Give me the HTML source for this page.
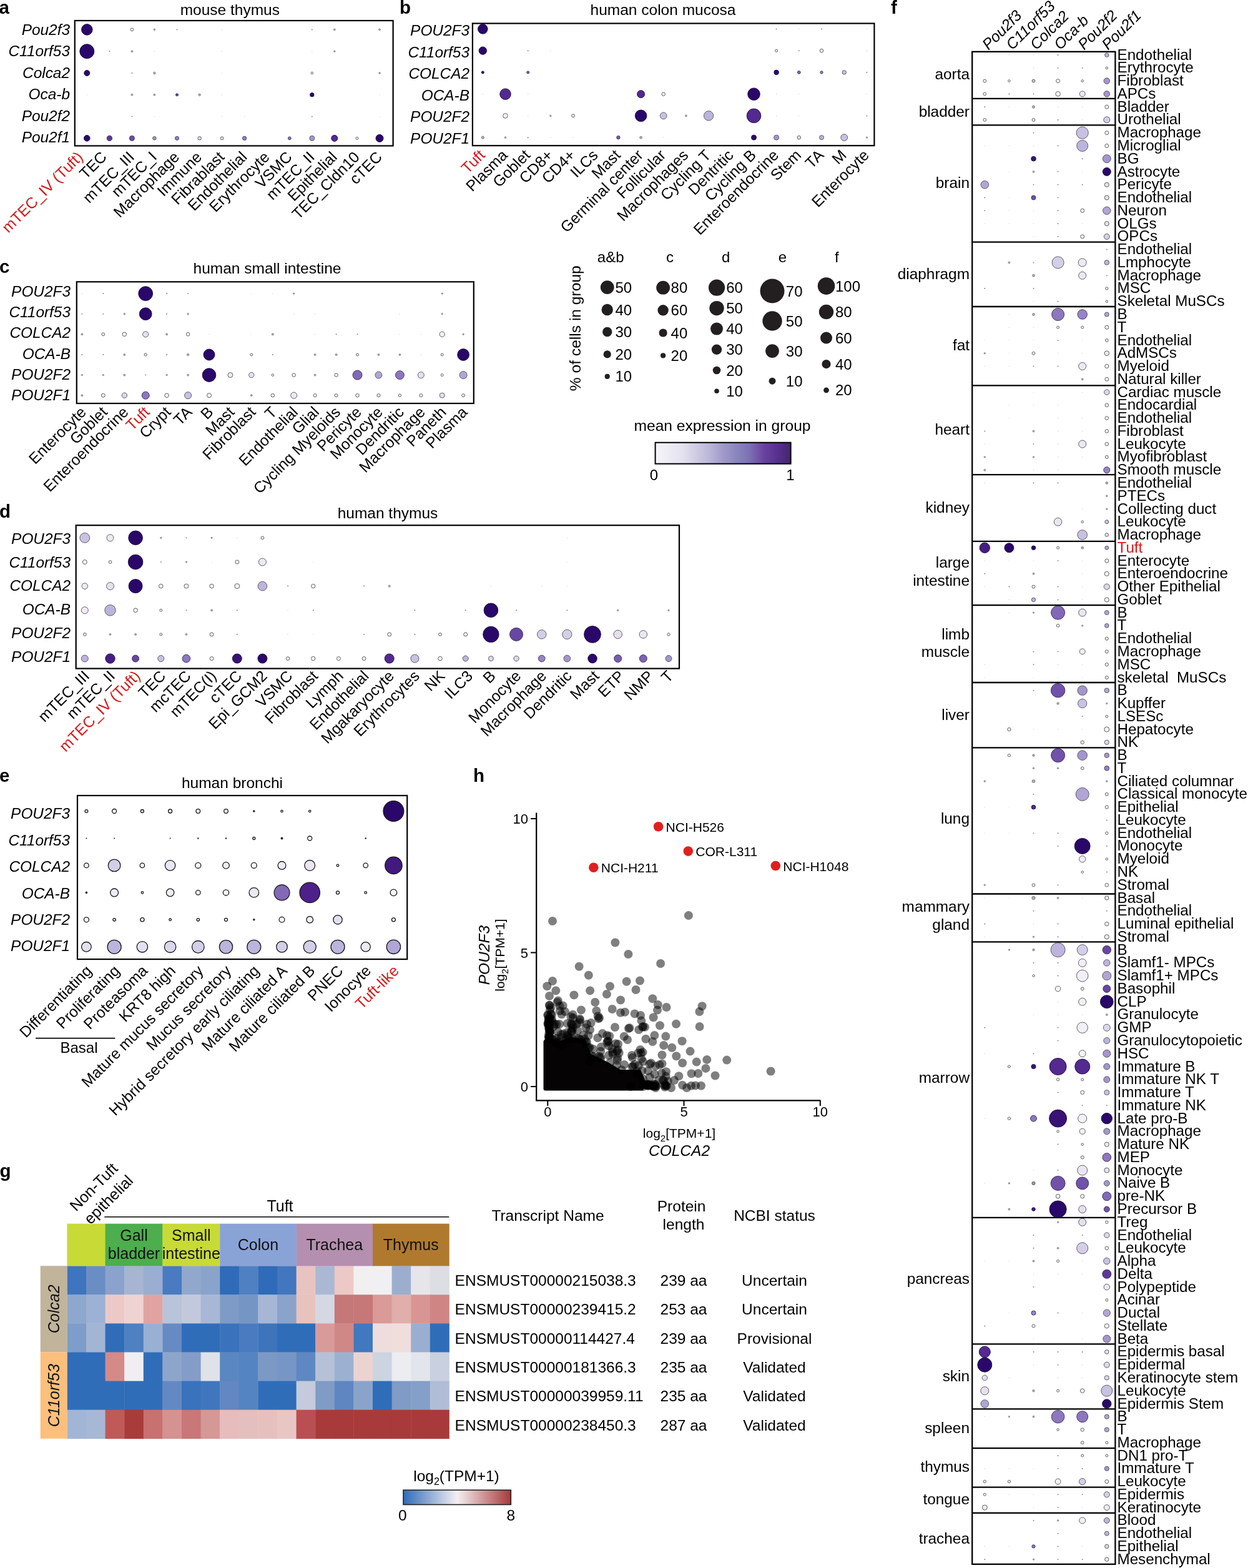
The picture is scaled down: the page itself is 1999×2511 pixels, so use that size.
<!DOCTYPE html>
<html><head><meta charset="utf-8"><title>Figure</title>
<style>html,body{margin:0;padding:0;background:#fff;}svg{display:block;}
</style></head>
<body><svg width="1999" height="2511" viewBox="0 0 1999 2511">
<rect width="1999" height="2511" fill="#fff"/>
<g font-family='"Liberation Sans", Arial, Helvetica, sans-serif' font-size="24">
<circle cx="139.3" cy="47.4" r="8.8" fill="#2a0869" stroke="#1b0840" stroke-width="0.9"/>
<circle cx="139.3" cy="82.2" r="11.5" fill="#2a0869" stroke="#1b0840" stroke-width="0.9"/>
<circle cx="139.3" cy="117.0" r="4.5" fill="#2a0869" stroke="#1b0840" stroke-width="0.9"/>
<circle cx="139.3" cy="151.8" r="0.6" fill="#c8c8c8"/>
<circle cx="139.3" cy="221.4" r="4.8" fill="#2a0869" stroke="#1b0840" stroke-width="0.9"/>
<circle cx="175.4" cy="82.2" r="1.0" fill="#8a8a8a"/>
<circle cx="175.4" cy="221.4" r="4.2" fill="#5e3799" stroke="#352a55" stroke-width="0.9"/>
<circle cx="211.4" cy="47.4" r="2.4" fill="#f6f3fa" stroke="#505050" stroke-width="0.9"/>
<circle cx="211.4" cy="82.2" r="1.5" fill="#a9a9b4" stroke="#777" stroke-width="0.7"/>
<circle cx="211.4" cy="117.0" r="1.0" fill="#8a8a8a"/>
<circle cx="211.4" cy="151.8" r="1.5" fill="#a9a9b4" stroke="#777" stroke-width="0.7"/>
<circle cx="211.4" cy="186.6" r="1.0" fill="#8a8a8a"/>
<circle cx="211.4" cy="221.4" r="4.0" fill="#6d4da7" stroke="#352a55" stroke-width="0.9"/>
<circle cx="247.4" cy="47.4" r="1.4" fill="#a9a9b4" stroke="#777" stroke-width="0.7"/>
<circle cx="247.4" cy="82.2" r="0.6" fill="#c8c8c8"/>
<circle cx="247.4" cy="117.0" r="1.8" fill="#a9a9b4" stroke="#777" stroke-width="0.7"/>
<circle cx="247.4" cy="151.8" r="1.5" fill="#a9a9b4" stroke="#777" stroke-width="0.7"/>
<circle cx="247.4" cy="186.6" r="0.6" fill="#c8c8c8"/>
<circle cx="247.4" cy="221.4" r="2.8" fill="#a495ce" stroke="#505050" stroke-width="0.9"/>
<circle cx="283.5" cy="47.4" r="1.0" fill="#8a8a8a"/>
<circle cx="283.5" cy="151.8" r="2.0" fill="#6846a3" stroke="#352a55" stroke-width="0.9"/>
<circle cx="283.5" cy="221.4" r="3.0" fill="#9884c6" stroke="#352a55" stroke-width="0.9"/>
<circle cx="319.6" cy="151.8" r="1.8" fill="#a9a9b4" stroke="#777" stroke-width="0.7"/>
<circle cx="319.6" cy="221.4" r="2.8" fill="#dcd7ec" stroke="#505050" stroke-width="0.9"/>
<circle cx="355.6" cy="47.4" r="0.6" fill="#c8c8c8"/>
<circle cx="355.6" cy="82.2" r="0.6" fill="#c8c8c8"/>
<circle cx="355.6" cy="117.0" r="0.6" fill="#c8c8c8"/>
<circle cx="355.6" cy="151.8" r="0.6" fill="#c8c8c8"/>
<circle cx="355.6" cy="186.6" r="0.6" fill="#c8c8c8"/>
<circle cx="355.6" cy="221.4" r="2.5" fill="#e5e0f0" stroke="#505050" stroke-width="0.9"/>
<circle cx="391.6" cy="186.6" r="0.6" fill="#c8c8c8"/>
<circle cx="391.6" cy="221.4" r="3.1" fill="#9884c6" stroke="#352a55" stroke-width="0.9"/>
<circle cx="463.8" cy="221.4" r="2.4" fill="#8d77be" stroke="#352a55" stroke-width="0.9"/>
<circle cx="499.8" cy="47.4" r="1.0" fill="#8a8a8a"/>
<circle cx="499.8" cy="82.2" r="0.6" fill="#c8c8c8"/>
<circle cx="499.8" cy="117.0" r="1.7" fill="#f6f3fa" stroke="#505050" stroke-width="0.9"/>
<circle cx="499.8" cy="151.8" r="3.2" fill="#2a0869" stroke="#1b0840" stroke-width="0.9"/>
<circle cx="499.8" cy="186.6" r="1.0" fill="#8a8a8a"/>
<circle cx="499.8" cy="221.4" r="4.0" fill="#a495ce" stroke="#505050" stroke-width="0.9"/>
<circle cx="535.8" cy="47.4" r="1.5" fill="#a9a9b4" stroke="#777" stroke-width="0.7"/>
<circle cx="535.8" cy="82.2" r="1.3" fill="#a9a9b4" stroke="#777" stroke-width="0.7"/>
<circle cx="535.8" cy="221.4" r="5.0" fill="#542990" stroke="#1b0840" stroke-width="0.9"/>
<circle cx="571.9" cy="221.4" r="2.0" fill="#f6f3fa" stroke="#505050" stroke-width="0.9"/>
<circle cx="608.0" cy="47.4" r="1.5" fill="#a9a9b4" stroke="#777" stroke-width="0.7"/>
<circle cx="608.0" cy="117.0" r="1.3" fill="#a9a9b4" stroke="#777" stroke-width="0.7"/>
<circle cx="608.0" cy="151.8" r="0.6" fill="#c8c8c8"/>
<circle cx="608.0" cy="186.6" r="0.6" fill="#c8c8c8"/>
<circle cx="608.0" cy="221.4" r="6.0" fill="#2a0869" stroke="#1b0840" stroke-width="0.9"/>
<rect x="119.8" y="33.0" width="509.8" height="200.5" fill="none" stroke="#000" stroke-width="2.2"/>
<text x="112.0" y="55.9" text-anchor="end" font-size="24.4" font-style="italic">Pou2f3</text>
<text x="112.0" y="90.4" text-anchor="end" font-size="24.4" font-style="italic">C11orf53</text>
<text x="112.0" y="124.9" text-anchor="end" font-size="24.4" font-style="italic">Colca2</text>
<text x="112.0" y="159.4" text-anchor="end" font-size="24.4" font-style="italic">Oca-b</text>
<text x="112.0" y="193.9" text-anchor="end" font-size="24.4" font-style="italic">Pou2f2</text>
<text x="112.0" y="228.4" text-anchor="end" font-size="24.4" font-style="italic">Pou2f1</text>
<text x="134.3" y="253.0" text-anchor="end" font-size="24.6" fill="#d7191c" transform="rotate(-45 134.3 253.0)">mTEC_IV (Tuft)</text>
<text x="172.4" y="253.0" text-anchor="end" font-size="24.6" transform="rotate(-45 172.4 253.0)">TEC</text>
<text x="216.5" y="253.0" text-anchor="end" font-size="24.6" transform="rotate(-45 216.5 253.0)">mTEC_III</text>
<text x="252.6" y="253.0" text-anchor="end" font-size="24.6" transform="rotate(-45 252.6 253.0)">mTEC_I</text>
<text x="288.7" y="253.0" text-anchor="end" font-size="24.6" transform="rotate(-45 288.7 253.0)">Macrophage</text>
<text x="324.8" y="253.0" text-anchor="end" font-size="24.6" transform="rotate(-45 324.8 253.0)">Immune</text>
<text x="360.9" y="253.0" text-anchor="end" font-size="24.6" transform="rotate(-45 360.9 253.0)">Fibrablast</text>
<text x="397.0" y="253.0" text-anchor="end" font-size="24.6" transform="rotate(-45 397.0 253.0)">Endothelial</text>
<text x="433.1" y="253.0" text-anchor="end" font-size="24.6" transform="rotate(-45 433.1 253.0)">Erythrocyte</text>
<text x="469.2" y="253.0" text-anchor="end" font-size="24.6" transform="rotate(-45 469.2 253.0)">VSMC</text>
<text x="505.3" y="253.0" text-anchor="end" font-size="24.6" transform="rotate(-45 505.3 253.0)">mTEC_II</text>
<text x="541.4" y="253.0" text-anchor="end" font-size="24.6" transform="rotate(-45 541.4 253.0)">Epithelial</text>
<text x="577.5" y="253.0" text-anchor="end" font-size="24.6" transform="rotate(-45 577.5 253.0)">TEC_Cldn10</text>
<text x="613.6" y="253.0" text-anchor="end" font-size="24.6" transform="rotate(-45 613.6 253.0)">cTEC</text>
<text x="368.3" y="24.0" text-anchor="middle" font-size="24.5">mouse thymus</text>
<circle cx="773.3" cy="46.4" r="7.8" fill="#2a0869" stroke="#1b0840" stroke-width="0.9"/>
<circle cx="773.3" cy="81.2" r="6.2" fill="#2a0869" stroke="#1b0840" stroke-width="0.9"/>
<circle cx="773.3" cy="115.9" r="2.0" fill="#2a0869" stroke="#1b0840" stroke-width="0.9"/>
<circle cx="773.3" cy="150.7" r="0.6" fill="#c8c8c8"/>
<circle cx="773.3" cy="220.2" r="2.2" fill="#a9a9b4" stroke="#777" stroke-width="0.7"/>
<circle cx="809.5" cy="150.7" r="8.8" fill="#542990" stroke="#1b0840" stroke-width="0.9"/>
<circle cx="809.5" cy="185.4" r="3.8" fill="#f6f3fa" stroke="#505050" stroke-width="0.9"/>
<circle cx="809.5" cy="220.2" r="1.4" fill="#a9a9b4" stroke="#777" stroke-width="0.7"/>
<circle cx="845.7" cy="81.2" r="1.0" fill="#8a8a8a"/>
<circle cx="845.7" cy="115.9" r="2.0" fill="#795db0" stroke="#352a55" stroke-width="0.9"/>
<circle cx="845.7" cy="150.7" r="0.6" fill="#c8c8c8"/>
<circle cx="845.7" cy="185.4" r="0.6" fill="#c8c8c8"/>
<circle cx="845.7" cy="220.2" r="1.0" fill="#8a8a8a"/>
<circle cx="881.8" cy="81.2" r="0.6" fill="#c8c8c8"/>
<circle cx="881.8" cy="185.4" r="1.3" fill="#a9a9b4" stroke="#777" stroke-width="0.7"/>
<circle cx="881.8" cy="220.2" r="0.6" fill="#c8c8c8"/>
<circle cx="918.0" cy="185.4" r="2.5" fill="#f6f3fa" stroke="#505050" stroke-width="0.9"/>
<circle cx="918.0" cy="220.2" r="0.6" fill="#c8c8c8"/>
<circle cx="990.4" cy="220.2" r="2.7" fill="#795db0" stroke="#352a55" stroke-width="0.9"/>
<circle cx="1026.6" cy="150.7" r="6.0" fill="#542990" stroke="#1b0840" stroke-width="0.9"/>
<circle cx="1026.6" cy="185.4" r="9.3" fill="#2a0869" stroke="#1b0840" stroke-width="0.9"/>
<circle cx="1026.6" cy="220.2" r="2.0" fill="#a9a9b4" stroke="#777" stroke-width="0.7"/>
<circle cx="1062.7" cy="150.7" r="2.8" fill="#f6f3fa" stroke="#505050" stroke-width="0.9"/>
<circle cx="1062.7" cy="185.4" r="5.4" fill="#c8c1e3" stroke="#505050" stroke-width="0.9"/>
<circle cx="1062.7" cy="220.2" r="0.6" fill="#c8c8c8"/>
<circle cx="1098.9" cy="185.4" r="1.5" fill="#a9a9b4" stroke="#777" stroke-width="0.7"/>
<circle cx="1135.1" cy="185.4" r="7.7" fill="#bdb4dd" stroke="#505050" stroke-width="0.9"/>
<circle cx="1207.5" cy="150.7" r="9.8" fill="#2a0869" stroke="#1b0840" stroke-width="0.9"/>
<circle cx="1207.5" cy="185.4" r="11.3" fill="#542990" stroke="#1b0840" stroke-width="0.9"/>
<circle cx="1207.5" cy="220.2" r="4.0" fill="#2a0869" stroke="#1b0840" stroke-width="0.9"/>
<circle cx="1243.6" cy="46.4" r="1.0" fill="#8a8a8a"/>
<circle cx="1243.6" cy="81.2" r="2.0" fill="#f6f3fa" stroke="#505050" stroke-width="0.9"/>
<circle cx="1243.6" cy="115.9" r="3.8" fill="#2a0869" stroke="#1b0840" stroke-width="0.9"/>
<circle cx="1243.6" cy="150.7" r="0.6" fill="#c8c8c8"/>
<circle cx="1243.6" cy="185.4" r="0.6" fill="#c8c8c8"/>
<circle cx="1243.6" cy="220.2" r="4.0" fill="#a495ce" stroke="#505050" stroke-width="0.9"/>
<circle cx="1279.8" cy="46.4" r="0.6" fill="#c8c8c8"/>
<circle cx="1279.8" cy="81.2" r="1.0" fill="#8a8a8a"/>
<circle cx="1279.8" cy="115.9" r="2.4" fill="#8269b7" stroke="#352a55" stroke-width="0.9"/>
<circle cx="1279.8" cy="150.7" r="0.6" fill="#c8c8c8"/>
<circle cx="1279.8" cy="185.4" r="0.6" fill="#c8c8c8"/>
<circle cx="1279.8" cy="220.2" r="2.8" fill="#e5e0f0" stroke="#505050" stroke-width="0.9"/>
<circle cx="1316.0" cy="46.4" r="1.0" fill="#8a8a8a"/>
<circle cx="1316.0" cy="81.2" r="2.8" fill="#f6f3fa" stroke="#505050" stroke-width="0.9"/>
<circle cx="1316.0" cy="115.9" r="2.2" fill="#9884c6" stroke="#352a55" stroke-width="0.9"/>
<circle cx="1316.0" cy="220.2" r="3.5" fill="#bdb4dd" stroke="#505050" stroke-width="0.9"/>
<circle cx="1352.2" cy="115.9" r="3.2" fill="#c8c1e3" stroke="#505050" stroke-width="0.9"/>
<circle cx="1352.2" cy="220.2" r="5.4" fill="#c8c1e3" stroke="#505050" stroke-width="0.9"/>
<circle cx="1388.4" cy="46.4" r="0.6" fill="#c8c8c8"/>
<circle cx="1388.4" cy="81.2" r="0.6" fill="#c8c8c8"/>
<circle cx="1388.4" cy="115.9" r="1.0" fill="#8a8a8a"/>
<circle cx="1388.4" cy="150.7" r="0.6" fill="#c8c8c8"/>
<circle cx="1388.4" cy="185.4" r="1.0" fill="#8a8a8a"/>
<circle cx="1388.4" cy="220.2" r="1.2" fill="#a9a9b4" stroke="#777" stroke-width="0.7"/>
<rect x="756.9" y="37.5" width="643.5" height="195.7" fill="none" stroke="#000" stroke-width="2.2"/>
<text x="752.0" y="57.1" text-anchor="end" font-size="24.4" font-style="italic">POU2F3</text>
<text x="752.0" y="91.6" text-anchor="end" font-size="24.4" font-style="italic">C11orf53</text>
<text x="752.0" y="126.1" text-anchor="end" font-size="24.4" font-style="italic">COLCA2</text>
<text x="752.0" y="160.6" text-anchor="end" font-size="24.4" font-style="italic">OCA-B</text>
<text x="752.0" y="195.1" text-anchor="end" font-size="24.4" font-style="italic">POU2F2</text>
<text x="752.0" y="229.6" text-anchor="end" font-size="24.4" font-style="italic">POU2F1</text>
<text x="778.3" y="250.0" text-anchor="end" font-size="24.6" fill="#d7191c" transform="rotate(-45 778.3 250.0)">Tuft</text>
<text x="814.5" y="250.0" text-anchor="end" font-size="24.6" transform="rotate(-45 814.5 250.0)">Plasma</text>
<text x="850.7" y="250.0" text-anchor="end" font-size="24.6" transform="rotate(-45 850.7 250.0)">Goblet</text>
<text x="886.8" y="250.0" text-anchor="end" font-size="24.6" transform="rotate(-45 886.8 250.0)">CD8+</text>
<text x="923.0" y="250.0" text-anchor="end" font-size="24.6" transform="rotate(-45 923.0 250.0)">CD4+</text>
<text x="959.2" y="250.0" text-anchor="end" font-size="24.6" transform="rotate(-45 959.2 250.0)">ILCs</text>
<text x="995.4" y="250.0" text-anchor="end" font-size="24.6" transform="rotate(-45 995.4 250.0)">Mast</text>
<text x="1031.6" y="250.0" text-anchor="end" font-size="24.6" transform="rotate(-45 1031.6 250.0)">Germinal center</text>
<text x="1067.7" y="250.0" text-anchor="end" font-size="24.6" transform="rotate(-45 1067.7 250.0)">Follicular</text>
<text x="1103.9" y="250.0" text-anchor="end" font-size="24.6" transform="rotate(-45 1103.9 250.0)">Macrophages</text>
<text x="1140.1" y="250.0" text-anchor="end" font-size="24.6" transform="rotate(-45 1140.1 250.0)">Cycling T</text>
<text x="1176.3" y="250.0" text-anchor="end" font-size="24.6" transform="rotate(-45 1176.3 250.0)">Dentritic</text>
<text x="1212.5" y="250.0" text-anchor="end" font-size="24.6" transform="rotate(-45 1212.5 250.0)">Cycling B</text>
<text x="1248.6" y="250.0" text-anchor="end" font-size="24.6" transform="rotate(-45 1248.6 250.0)">Enteroendocrine</text>
<text x="1284.8" y="250.0" text-anchor="end" font-size="24.6" transform="rotate(-45 1284.8 250.0)">Stem</text>
<text x="1321.0" y="250.0" text-anchor="end" font-size="24.6" transform="rotate(-45 1321.0 250.0)">TA</text>
<text x="1357.2" y="250.0" text-anchor="end" font-size="24.6" transform="rotate(-45 1357.2 250.0)">M</text>
<text x="1393.4" y="250.0" text-anchor="end" font-size="24.6" transform="rotate(-45 1393.4 250.0)">Enterocyte</text>
<text x="1062.0" y="24.0" text-anchor="middle" font-size="24.5">human colon mucosa</text>
<circle cx="131.4" cy="470.1" r="0.6" fill="#c8c8c8"/>
<circle cx="131.4" cy="502.7" r="1.0" fill="#8a8a8a"/>
<circle cx="131.4" cy="535.3" r="1.5" fill="#a9a9b4" stroke="#777" stroke-width="0.7"/>
<circle cx="131.4" cy="568.0" r="1.0" fill="#8a8a8a"/>
<circle cx="131.4" cy="600.6" r="1.2" fill="#a9a9b4" stroke="#777" stroke-width="0.7"/>
<circle cx="131.4" cy="633.2" r="1.5" fill="#a9a9b4" stroke="#777" stroke-width="0.7"/>
<circle cx="165.3" cy="470.1" r="1.0" fill="#8a8a8a"/>
<circle cx="165.3" cy="502.7" r="1.0" fill="#8a8a8a"/>
<circle cx="165.3" cy="535.3" r="2.4" fill="#f6f3fa" stroke="#505050" stroke-width="0.9"/>
<circle cx="165.3" cy="568.0" r="1.0" fill="#8a8a8a"/>
<circle cx="165.3" cy="600.6" r="1.2" fill="#a9a9b4" stroke="#777" stroke-width="0.7"/>
<circle cx="165.3" cy="633.2" r="3.0" fill="#f6f3fa" stroke="#505050" stroke-width="0.9"/>
<circle cx="199.3" cy="502.7" r="1.3" fill="#a9a9b4" stroke="#777" stroke-width="0.7"/>
<circle cx="199.3" cy="535.3" r="3.3" fill="#f6f3fa" stroke="#505050" stroke-width="0.9"/>
<circle cx="199.3" cy="568.0" r="1.5" fill="#a9a9b4" stroke="#777" stroke-width="0.7"/>
<circle cx="199.3" cy="600.6" r="1.5" fill="#a9a9b4" stroke="#777" stroke-width="0.7"/>
<circle cx="199.3" cy="633.2" r="4.2" fill="#dcd7ec" stroke="#505050" stroke-width="0.9"/>
<circle cx="233.2" cy="470.1" r="11.4" fill="#2a0869" stroke="#1b0840" stroke-width="0.9"/>
<circle cx="233.2" cy="502.7" r="9.9" fill="#2a0869" stroke="#1b0840" stroke-width="0.9"/>
<circle cx="233.2" cy="535.3" r="4.6" fill="#e5e0f0" stroke="#505050" stroke-width="0.9"/>
<circle cx="233.2" cy="568.0" r="2.2" fill="#f6f3fa" stroke="#505050" stroke-width="0.9"/>
<circle cx="233.2" cy="600.6" r="1.0" fill="#8a8a8a"/>
<circle cx="233.2" cy="633.2" r="6.0" fill="#8d77be" stroke="#352a55" stroke-width="0.9"/>
<circle cx="267.1" cy="470.1" r="1.0" fill="#8a8a8a"/>
<circle cx="267.1" cy="502.7" r="1.0" fill="#8a8a8a"/>
<circle cx="267.1" cy="535.3" r="1.5" fill="#a9a9b4" stroke="#777" stroke-width="0.7"/>
<circle cx="267.1" cy="568.0" r="1.0" fill="#8a8a8a"/>
<circle cx="267.1" cy="600.6" r="1.2" fill="#a9a9b4" stroke="#777" stroke-width="0.7"/>
<circle cx="267.1" cy="633.2" r="3.3" fill="#f6f3fa" stroke="#505050" stroke-width="0.9"/>
<circle cx="301.1" cy="470.1" r="1.0" fill="#8a8a8a"/>
<circle cx="301.1" cy="502.7" r="1.3" fill="#a9a9b4" stroke="#777" stroke-width="0.7"/>
<circle cx="301.1" cy="535.3" r="2.8" fill="#f6f3fa" stroke="#505050" stroke-width="0.9"/>
<circle cx="301.1" cy="568.0" r="1.8" fill="#a9a9b4" stroke="#777" stroke-width="0.7"/>
<circle cx="301.1" cy="600.6" r="1.5" fill="#a9a9b4" stroke="#777" stroke-width="0.7"/>
<circle cx="301.1" cy="633.2" r="5.5" fill="#c8c1e3" stroke="#505050" stroke-width="0.9"/>
<circle cx="335.0" cy="535.3" r="0.6" fill="#c8c8c8"/>
<circle cx="335.0" cy="568.0" r="9.0" fill="#2a0869" stroke="#1b0840" stroke-width="0.9"/>
<circle cx="335.0" cy="600.6" r="10.8" fill="#2a0869" stroke="#1b0840" stroke-width="0.9"/>
<circle cx="335.0" cy="633.2" r="3.5" fill="#f6f3fa" stroke="#505050" stroke-width="0.9"/>
<circle cx="368.9" cy="600.6" r="4.0" fill="#ece9f4" stroke="#505050" stroke-width="0.9"/>
<circle cx="402.8" cy="470.1" r="0.6" fill="#c8c8c8"/>
<circle cx="402.8" cy="535.3" r="0.6" fill="#c8c8c8"/>
<circle cx="402.8" cy="568.0" r="2.0" fill="#f6f3fa" stroke="#505050" stroke-width="0.9"/>
<circle cx="402.8" cy="600.6" r="4.2" fill="#e5e0f0" stroke="#505050" stroke-width="0.9"/>
<circle cx="402.8" cy="633.2" r="1.5" fill="#a9a9b4" stroke="#777" stroke-width="0.7"/>
<circle cx="436.8" cy="470.1" r="0.6" fill="#c8c8c8"/>
<circle cx="436.8" cy="535.3" r="1.6" fill="#a9a9b4" stroke="#777" stroke-width="0.7"/>
<circle cx="436.8" cy="568.0" r="1.0" fill="#8a8a8a"/>
<circle cx="436.8" cy="600.6" r="1.8" fill="#f6f3fa" stroke="#505050" stroke-width="0.9"/>
<circle cx="436.8" cy="633.2" r="2.8" fill="#f6f3fa" stroke="#505050" stroke-width="0.9"/>
<circle cx="470.7" cy="470.1" r="1.2" fill="#a9a9b4" stroke="#777" stroke-width="0.7"/>
<circle cx="470.7" cy="502.7" r="0.6" fill="#c8c8c8"/>
<circle cx="470.7" cy="600.6" r="2.8" fill="#f6f3fa" stroke="#505050" stroke-width="0.9"/>
<circle cx="470.7" cy="633.2" r="5.0" fill="#ece9f4" stroke="#505050" stroke-width="0.9"/>
<circle cx="504.6" cy="502.7" r="0.6" fill="#c8c8c8"/>
<circle cx="504.6" cy="535.3" r="0.6" fill="#c8c8c8"/>
<circle cx="504.6" cy="568.0" r="1.5" fill="#a9a9b4" stroke="#777" stroke-width="0.7"/>
<circle cx="504.6" cy="600.6" r="1.5" fill="#a9a9b4" stroke="#777" stroke-width="0.7"/>
<circle cx="504.6" cy="633.2" r="2.6" fill="#f6f3fa" stroke="#505050" stroke-width="0.9"/>
<circle cx="538.6" cy="535.3" r="1.0" fill="#8a8a8a"/>
<circle cx="538.6" cy="568.0" r="1.6" fill="#a9a9b4" stroke="#777" stroke-width="0.7"/>
<circle cx="538.6" cy="600.6" r="2.8" fill="#f6f3fa" stroke="#505050" stroke-width="0.9"/>
<circle cx="538.6" cy="633.2" r="2.5" fill="#f6f3fa" stroke="#505050" stroke-width="0.9"/>
<circle cx="572.5" cy="535.3" r="1.0" fill="#8a8a8a"/>
<circle cx="572.5" cy="568.0" r="2.0" fill="#f6f3fa" stroke="#505050" stroke-width="0.9"/>
<circle cx="572.5" cy="600.6" r="7.5" fill="#8269b7" stroke="#352a55" stroke-width="0.9"/>
<circle cx="572.5" cy="633.2" r="2.8" fill="#f6f3fa" stroke="#505050" stroke-width="0.9"/>
<circle cx="606.4" cy="568.0" r="1.5" fill="#a9a9b4" stroke="#777" stroke-width="0.7"/>
<circle cx="606.4" cy="600.6" r="5.5" fill="#b1a5d7" stroke="#505050" stroke-width="0.9"/>
<circle cx="606.4" cy="633.2" r="2.6" fill="#f6f3fa" stroke="#505050" stroke-width="0.9"/>
<circle cx="640.4" cy="502.7" r="0.6" fill="#c8c8c8"/>
<circle cx="640.4" cy="535.3" r="0.6" fill="#c8c8c8"/>
<circle cx="640.4" cy="568.0" r="1.5" fill="#a9a9b4" stroke="#777" stroke-width="0.7"/>
<circle cx="640.4" cy="600.6" r="6.9" fill="#8d77be" stroke="#352a55" stroke-width="0.9"/>
<circle cx="640.4" cy="633.2" r="2.2" fill="#f6f3fa" stroke="#505050" stroke-width="0.9"/>
<circle cx="674.3" cy="535.3" r="0.6" fill="#c8c8c8"/>
<circle cx="674.3" cy="568.0" r="0.6" fill="#c8c8c8"/>
<circle cx="674.3" cy="600.6" r="5.0" fill="#e5e0f0" stroke="#505050" stroke-width="0.9"/>
<circle cx="674.3" cy="633.2" r="2.5" fill="#f6f3fa" stroke="#505050" stroke-width="0.9"/>
<circle cx="708.2" cy="470.1" r="1.2" fill="#a9a9b4" stroke="#777" stroke-width="0.7"/>
<circle cx="708.2" cy="502.7" r="1.2" fill="#a9a9b4" stroke="#777" stroke-width="0.7"/>
<circle cx="708.2" cy="535.3" r="4.2" fill="#f2eff8" stroke="#505050" stroke-width="0.9"/>
<circle cx="708.2" cy="568.0" r="2.0" fill="#f6f3fa" stroke="#505050" stroke-width="0.9"/>
<circle cx="708.2" cy="600.6" r="2.0" fill="#f6f3fa" stroke="#505050" stroke-width="0.9"/>
<circle cx="708.2" cy="633.2" r="4.0" fill="#e5e0f0" stroke="#505050" stroke-width="0.9"/>
<circle cx="742.1" cy="535.3" r="1.2" fill="#a9a9b4" stroke="#777" stroke-width="0.7"/>
<circle cx="742.1" cy="568.0" r="9.4" fill="#2a0869" stroke="#1b0840" stroke-width="0.9"/>
<circle cx="742.1" cy="600.6" r="6.0" fill="#b1a5d7" stroke="#505050" stroke-width="0.9"/>
<circle cx="742.1" cy="633.2" r="2.5" fill="#f6f3fa" stroke="#505050" stroke-width="0.9"/>
<rect x="122.8" y="451.3" width="636.0" height="194.7" fill="none" stroke="#000" stroke-width="2.2"/>
<text x="113.0" y="475.0" text-anchor="end" font-size="24.4" font-style="italic">POU2F3</text>
<text x="113.0" y="508.2" text-anchor="end" font-size="24.4" font-style="italic">C11orf53</text>
<text x="113.0" y="541.4" text-anchor="end" font-size="24.4" font-style="italic">COLCA2</text>
<text x="113.0" y="574.6" text-anchor="end" font-size="24.4" font-style="italic">OCA-B</text>
<text x="113.0" y="607.8" text-anchor="end" font-size="24.4" font-style="italic">POU2F2</text>
<text x="113.0" y="641.0" text-anchor="end" font-size="24.4" font-style="italic">POU2F1</text>
<text x="139.4" y="661.5" text-anchor="end" font-size="24.6" transform="rotate(-45 139.4 661.5)">Enterocyte</text>
<text x="173.3" y="661.5" text-anchor="end" font-size="24.6" transform="rotate(-45 173.3 661.5)">Goblet</text>
<text x="207.3" y="661.5" text-anchor="end" font-size="24.6" transform="rotate(-45 207.3 661.5)">Enteroendocrine</text>
<text x="241.2" y="661.5" text-anchor="end" font-size="24.6" fill="#d7191c" transform="rotate(-45 241.2 661.5)">Tuft</text>
<text x="275.1" y="661.5" text-anchor="end" font-size="24.6" transform="rotate(-45 275.1 661.5)">Crypt</text>
<text x="309.1" y="661.5" text-anchor="end" font-size="24.6" transform="rotate(-45 309.1 661.5)">TA</text>
<text x="343.0" y="661.5" text-anchor="end" font-size="24.6" transform="rotate(-45 343.0 661.5)">B</text>
<text x="376.9" y="661.5" text-anchor="end" font-size="24.6" transform="rotate(-45 376.9 661.5)">Mast</text>
<text x="410.8" y="661.5" text-anchor="end" font-size="24.6" transform="rotate(-45 410.8 661.5)">Fibroblast</text>
<text x="444.8" y="661.5" text-anchor="end" font-size="24.6" transform="rotate(-45 444.8 661.5)">T</text>
<text x="478.7" y="661.5" text-anchor="end" font-size="24.6" transform="rotate(-45 478.7 661.5)">Endothelial</text>
<text x="512.6" y="661.5" text-anchor="end" font-size="24.6" transform="rotate(-45 512.6 661.5)">Glial</text>
<text x="546.6" y="661.5" text-anchor="end" font-size="24.6" transform="rotate(-45 546.6 661.5)">Cycling Myeloids</text>
<text x="580.5" y="661.5" text-anchor="end" font-size="24.6" transform="rotate(-45 580.5 661.5)">Pericyte</text>
<text x="614.4" y="661.5" text-anchor="end" font-size="24.6" transform="rotate(-45 614.4 661.5)">Monocyte</text>
<text x="648.4" y="661.5" text-anchor="end" font-size="24.6" transform="rotate(-45 648.4 661.5)">Dendritic</text>
<text x="682.3" y="661.5" text-anchor="end" font-size="24.6" transform="rotate(-45 682.3 661.5)">Macrophage</text>
<text x="716.2" y="661.5" text-anchor="end" font-size="24.6" transform="rotate(-45 716.2 661.5)">Paneth</text>
<text x="750.1" y="661.5" text-anchor="end" font-size="24.6" transform="rotate(-45 750.1 661.5)">Plasma</text>
<text x="428.0" y="438.0" text-anchor="middle" font-size="24.5">human small intestine</text>
<circle cx="135.8" cy="861.3" r="7.9" fill="#c8c1e3" stroke="#505050" stroke-width="0.9"/>
<circle cx="135.8" cy="900.0" r="3.5" fill="#f6f3fa" stroke="#505050" stroke-width="0.9"/>
<circle cx="135.8" cy="938.6" r="4.8" fill="#ece9f4" stroke="#505050" stroke-width="0.9"/>
<circle cx="135.8" cy="977.3" r="5.5" fill="#efebf6" stroke="#505050" stroke-width="0.9"/>
<circle cx="135.8" cy="1015.9" r="2.4" fill="#f6f3fa" stroke="#505050" stroke-width="0.9"/>
<circle cx="135.8" cy="1054.6" r="5.5" fill="#bdb4dd" stroke="#505050" stroke-width="0.9"/>
<circle cx="176.5" cy="861.3" r="5.5" fill="#ece9f4" stroke="#505050" stroke-width="0.9"/>
<circle cx="176.5" cy="900.0" r="2.4" fill="#f6f3fa" stroke="#505050" stroke-width="0.9"/>
<circle cx="176.5" cy="938.6" r="6.0" fill="#e5e0f0" stroke="#505050" stroke-width="0.9"/>
<circle cx="176.5" cy="977.3" r="8.7" fill="#bdb4dd" stroke="#505050" stroke-width="0.9"/>
<circle cx="176.5" cy="1015.9" r="1.5" fill="#a9a9b4" stroke="#777" stroke-width="0.7"/>
<circle cx="176.5" cy="1054.6" r="7.7" fill="#471d84" stroke="#1b0840" stroke-width="0.9"/>
<circle cx="217.1" cy="861.3" r="11.3" fill="#2a0869" stroke="#1b0840" stroke-width="0.9"/>
<circle cx="217.1" cy="900.0" r="11.8" fill="#2a0869" stroke="#1b0840" stroke-width="0.9"/>
<circle cx="217.1" cy="938.6" r="11.0" fill="#2a0869" stroke="#1b0840" stroke-width="0.9"/>
<circle cx="217.1" cy="977.3" r="3.3" fill="#f6f3fa" stroke="#505050" stroke-width="0.9"/>
<circle cx="217.1" cy="1015.9" r="1.5" fill="#a9a9b4" stroke="#777" stroke-width="0.7"/>
<circle cx="217.1" cy="1054.6" r="5.5" fill="#6846a3" stroke="#352a55" stroke-width="0.9"/>
<circle cx="257.8" cy="861.3" r="1.2" fill="#a9a9b4" stroke="#777" stroke-width="0.7"/>
<circle cx="257.8" cy="900.0" r="1.0" fill="#8a8a8a"/>
<circle cx="257.8" cy="938.6" r="3.3" fill="#f6f3fa" stroke="#505050" stroke-width="0.9"/>
<circle cx="257.8" cy="977.3" r="2.0" fill="#f6f3fa" stroke="#505050" stroke-width="0.9"/>
<circle cx="257.8" cy="1015.9" r="2.0" fill="#f6f3fa" stroke="#505050" stroke-width="0.9"/>
<circle cx="257.8" cy="1054.6" r="5.0" fill="#c8c1e3" stroke="#505050" stroke-width="0.9"/>
<circle cx="298.4" cy="861.3" r="1.0" fill="#8a8a8a"/>
<circle cx="298.4" cy="900.0" r="1.2" fill="#a9a9b4" stroke="#777" stroke-width="0.7"/>
<circle cx="298.4" cy="938.6" r="3.5" fill="#f6f3fa" stroke="#505050" stroke-width="0.9"/>
<circle cx="298.4" cy="977.3" r="1.0" fill="#8a8a8a"/>
<circle cx="298.4" cy="1015.9" r="1.5" fill="#a9a9b4" stroke="#777" stroke-width="0.7"/>
<circle cx="298.4" cy="1054.6" r="6.3" fill="#8d77be" stroke="#352a55" stroke-width="0.9"/>
<circle cx="339.1" cy="861.3" r="1.2" fill="#a9a9b4" stroke="#777" stroke-width="0.7"/>
<circle cx="339.1" cy="900.0" r="0.6" fill="#c8c8c8"/>
<circle cx="339.1" cy="938.6" r="3.3" fill="#f6f3fa" stroke="#505050" stroke-width="0.9"/>
<circle cx="339.1" cy="977.3" r="1.5" fill="#a9a9b4" stroke="#777" stroke-width="0.7"/>
<circle cx="339.1" cy="1015.9" r="3.0" fill="#f6f3fa" stroke="#505050" stroke-width="0.9"/>
<circle cx="339.1" cy="1054.6" r="3.0" fill="#f6f3fa" stroke="#505050" stroke-width="0.9"/>
<circle cx="379.8" cy="861.3" r="0.6" fill="#c8c8c8"/>
<circle cx="379.8" cy="900.0" r="3.0" fill="#f6f3fa" stroke="#505050" stroke-width="0.9"/>
<circle cx="379.8" cy="938.6" r="4.0" fill="#f2eff8" stroke="#505050" stroke-width="0.9"/>
<circle cx="379.8" cy="977.3" r="1.0" fill="#8a8a8a"/>
<circle cx="379.8" cy="1015.9" r="1.0" fill="#8a8a8a"/>
<circle cx="379.8" cy="1054.6" r="7.5" fill="#391276" stroke="#1b0840" stroke-width="0.9"/>
<circle cx="420.4" cy="861.3" r="2.4" fill="#f6f3fa" stroke="#505050" stroke-width="0.9"/>
<circle cx="420.4" cy="900.0" r="6.0" fill="#ece9f4" stroke="#505050" stroke-width="0.9"/>
<circle cx="420.4" cy="938.6" r="7.3" fill="#bdb4dd" stroke="#505050" stroke-width="0.9"/>
<circle cx="420.4" cy="1054.6" r="7.5" fill="#2a0869" stroke="#1b0840" stroke-width="0.9"/>
<circle cx="461.1" cy="938.6" r="1.0" fill="#8a8a8a"/>
<circle cx="461.1" cy="977.3" r="0.6" fill="#c8c8c8"/>
<circle cx="461.1" cy="1015.9" r="0.6" fill="#c8c8c8"/>
<circle cx="461.1" cy="1054.6" r="2.8" fill="#f6f3fa" stroke="#505050" stroke-width="0.9"/>
<circle cx="501.7" cy="900.0" r="0.6" fill="#c8c8c8"/>
<circle cx="501.7" cy="938.6" r="3.2" fill="#f6f3fa" stroke="#505050" stroke-width="0.9"/>
<circle cx="501.7" cy="977.3" r="1.0" fill="#8a8a8a"/>
<circle cx="501.7" cy="1015.9" r="0.6" fill="#c8c8c8"/>
<circle cx="501.7" cy="1054.6" r="3.2" fill="#f6f3fa" stroke="#505050" stroke-width="0.9"/>
<circle cx="542.4" cy="1054.6" r="3.0" fill="#f6f3fa" stroke="#505050" stroke-width="0.9"/>
<circle cx="583.1" cy="938.6" r="1.0" fill="#8a8a8a"/>
<circle cx="583.1" cy="1015.9" r="1.0" fill="#8a8a8a"/>
<circle cx="583.1" cy="1054.6" r="3.0" fill="#f6f3fa" stroke="#505050" stroke-width="0.9"/>
<circle cx="623.7" cy="938.6" r="1.6" fill="#a9a9b4" stroke="#777" stroke-width="0.7"/>
<circle cx="623.7" cy="1015.9" r="3.0" fill="#f6f3fa" stroke="#505050" stroke-width="0.9"/>
<circle cx="623.7" cy="1054.6" r="7.5" fill="#542990" stroke="#1b0840" stroke-width="0.9"/>
<circle cx="664.4" cy="977.3" r="1.0" fill="#8a8a8a"/>
<circle cx="664.4" cy="1015.9" r="1.0" fill="#8a8a8a"/>
<circle cx="664.4" cy="1054.6" r="6.5" fill="#c8c1e3" stroke="#505050" stroke-width="0.9"/>
<circle cx="705.0" cy="1015.9" r="2.4" fill="#f6f3fa" stroke="#505050" stroke-width="0.9"/>
<circle cx="705.0" cy="1054.6" r="3.3" fill="#f6f3fa" stroke="#505050" stroke-width="0.9"/>
<circle cx="745.7" cy="977.3" r="1.0" fill="#8a8a8a"/>
<circle cx="745.7" cy="1015.9" r="3.0" fill="#f6f3fa" stroke="#505050" stroke-width="0.9"/>
<circle cx="745.7" cy="1054.6" r="4.5" fill="#bdb4dd" stroke="#505050" stroke-width="0.9"/>
<circle cx="786.4" cy="938.6" r="0.6" fill="#c8c8c8"/>
<circle cx="786.4" cy="977.3" r="11.3" fill="#2a0869" stroke="#1b0840" stroke-width="0.9"/>
<circle cx="786.4" cy="1015.9" r="12.7" fill="#2a0869" stroke="#1b0840" stroke-width="0.9"/>
<circle cx="786.4" cy="1054.6" r="4.0" fill="#dcd7ec" stroke="#505050" stroke-width="0.9"/>
<circle cx="827.0" cy="977.3" r="1.0" fill="#8a8a8a"/>
<circle cx="827.0" cy="1015.9" r="10.5" fill="#6846a3" stroke="#352a55" stroke-width="0.9"/>
<circle cx="827.0" cy="1054.6" r="4.2" fill="#dcd7ec" stroke="#505050" stroke-width="0.9"/>
<circle cx="867.7" cy="938.6" r="0.6" fill="#c8c8c8"/>
<circle cx="867.7" cy="1015.9" r="7.2" fill="#d4cee8" stroke="#505050" stroke-width="0.9"/>
<circle cx="867.7" cy="1054.6" r="5.3" fill="#9884c6" stroke="#352a55" stroke-width="0.9"/>
<circle cx="908.3" cy="861.3" r="0.6" fill="#c8c8c8"/>
<circle cx="908.3" cy="900.0" r="0.6" fill="#c8c8c8"/>
<circle cx="908.3" cy="938.6" r="0.6" fill="#c8c8c8"/>
<circle cx="908.3" cy="977.3" r="1.0" fill="#8a8a8a"/>
<circle cx="908.3" cy="1015.9" r="7.6" fill="#d4cee8" stroke="#505050" stroke-width="0.9"/>
<circle cx="908.3" cy="1054.6" r="5.4" fill="#a495ce" stroke="#505050" stroke-width="0.9"/>
<circle cx="949.0" cy="1015.9" r="13.4" fill="#2a0869" stroke="#1b0840" stroke-width="0.9"/>
<circle cx="949.0" cy="1054.6" r="7.3" fill="#2a0869" stroke="#1b0840" stroke-width="0.9"/>
<circle cx="989.7" cy="977.3" r="1.2" fill="#a9a9b4" stroke="#777" stroke-width="0.7"/>
<circle cx="989.7" cy="1015.9" r="6.7" fill="#e5e0f0" stroke="#505050" stroke-width="0.9"/>
<circle cx="989.7" cy="1054.6" r="6.0" fill="#795db0" stroke="#352a55" stroke-width="0.9"/>
<circle cx="1030.3" cy="1015.9" r="6.3" fill="#eae6f3" stroke="#505050" stroke-width="0.9"/>
<circle cx="1030.3" cy="1054.6" r="6.0" fill="#7e64b4" stroke="#352a55" stroke-width="0.9"/>
<circle cx="1071.0" cy="977.3" r="1.2" fill="#a9a9b4" stroke="#777" stroke-width="0.7"/>
<circle cx="1071.0" cy="1015.9" r="2.2" fill="#f6f3fa" stroke="#505050" stroke-width="0.9"/>
<circle cx="1071.0" cy="1054.6" r="5.0" fill="#a495ce" stroke="#505050" stroke-width="0.9"/>
<rect x="121.7" y="841.2" width="966.3" height="229.4" fill="none" stroke="#000" stroke-width="2.2"/>
<text x="113.0" y="870.9" text-anchor="end" font-size="24.4" font-style="italic">POU2F3</text>
<text x="113.0" y="908.7" text-anchor="end" font-size="24.4" font-style="italic">C11orf53</text>
<text x="113.0" y="946.4" text-anchor="end" font-size="24.4" font-style="italic">COLCA2</text>
<text x="113.0" y="984.2" text-anchor="end" font-size="24.4" font-style="italic">OCA-B</text>
<text x="113.0" y="1021.9" text-anchor="end" font-size="24.4" font-style="italic">POU2F2</text>
<text x="113.0" y="1059.7" text-anchor="end" font-size="24.4" font-style="italic">POU2F1</text>
<text x="144.8" y="1084.1" text-anchor="end" font-size="24.6" transform="rotate(-45 144.8 1084.1)">mTEC_III</text>
<text x="185.5" y="1084.1" text-anchor="end" font-size="24.6" transform="rotate(-45 185.5 1084.1)">mTEC_II</text>
<text x="226.1" y="1084.1" text-anchor="end" font-size="24.6" fill="#d7191c" transform="rotate(-45 226.1 1084.1)">mTEC_IV (Tuft)</text>
<text x="266.8" y="1084.1" text-anchor="end" font-size="24.6" transform="rotate(-45 266.8 1084.1)">TEC</text>
<text x="307.4" y="1084.1" text-anchor="end" font-size="24.6" transform="rotate(-45 307.4 1084.1)">mcTEC</text>
<text x="348.1" y="1084.1" text-anchor="end" font-size="24.6" transform="rotate(-45 348.1 1084.1)">mTEC(I)</text>
<text x="388.8" y="1084.1" text-anchor="end" font-size="24.6" transform="rotate(-45 388.8 1084.1)">cTEC</text>
<text x="429.4" y="1084.1" text-anchor="end" font-size="24.6" transform="rotate(-45 429.4 1084.1)">Epi_GCM2</text>
<text x="470.1" y="1084.1" text-anchor="end" font-size="24.6" transform="rotate(-45 470.1 1084.1)">VSMC</text>
<text x="510.7" y="1084.1" text-anchor="end" font-size="24.6" transform="rotate(-45 510.7 1084.1)">Fibroblast</text>
<text x="551.4" y="1084.1" text-anchor="end" font-size="24.6" transform="rotate(-45 551.4 1084.1)">Lymph</text>
<text x="592.1" y="1084.1" text-anchor="end" font-size="24.6" transform="rotate(-45 592.1 1084.1)">Endothelial</text>
<text x="632.7" y="1084.1" text-anchor="end" font-size="24.6" transform="rotate(-45 632.7 1084.1)">Mgakaryocyte</text>
<text x="673.4" y="1084.1" text-anchor="end" font-size="24.6" transform="rotate(-45 673.4 1084.1)">Erythrocytes</text>
<text x="714.0" y="1084.1" text-anchor="end" font-size="24.6" transform="rotate(-45 714.0 1084.1)">NK</text>
<text x="758.7" y="1084.1" text-anchor="end" font-size="24.6" transform="rotate(-45 758.7 1084.1)">ILC3</text>
<text x="795.4" y="1084.1" text-anchor="end" font-size="24.6" transform="rotate(-45 795.4 1084.1)">B</text>
<text x="836.0" y="1084.1" text-anchor="end" font-size="24.6" transform="rotate(-45 836.0 1084.1)">Monocyte</text>
<text x="876.7" y="1084.1" text-anchor="end" font-size="24.6" transform="rotate(-45 876.7 1084.1)">Macrophage</text>
<text x="917.3" y="1084.1" text-anchor="end" font-size="24.6" transform="rotate(-45 917.3 1084.1)">Dendritic</text>
<text x="961.0" y="1084.1" text-anchor="end" font-size="24.6" transform="rotate(-45 961.0 1084.1)">Mast</text>
<text x="1001.7" y="1084.1" text-anchor="end" font-size="24.6" transform="rotate(-45 1001.7 1084.1)">ETP</text>
<text x="1048.3" y="1084.1" text-anchor="end" font-size="24.6" transform="rotate(-45 1048.3 1084.1)">NMP</text>
<text x="1080.0" y="1084.1" text-anchor="end" font-size="24.6" transform="rotate(-45 1080.0 1084.1)">T</text>
<text x="621.0" y="830.0" text-anchor="middle" font-size="24.5">human thymus</text>
<circle cx="138.4" cy="1299.0" r="2.4" fill="#f8f6fb" stroke="#1a1a1a" stroke-width="1.3"/>
<circle cx="138.4" cy="1342.5" r="1.0" fill="#222"/>
<circle cx="138.4" cy="1385.9" r="3.8" fill="#f8f6fb" stroke="#1a1a1a" stroke-width="1.3"/>
<circle cx="138.4" cy="1429.4" r="1.8" fill="#222"/>
<circle cx="138.4" cy="1472.8" r="4.0" fill="#f8f6fb" stroke="#1a1a1a" stroke-width="1.3"/>
<circle cx="138.4" cy="1516.3" r="7.8" fill="#e5e0f0" stroke="#1a1a1a" stroke-width="1.3"/>
<circle cx="183.1" cy="1299.0" r="3.5" fill="#f8f6fb" stroke="#1a1a1a" stroke-width="1.3"/>
<circle cx="183.1" cy="1342.5" r="1.0" fill="#222"/>
<circle cx="183.1" cy="1385.9" r="9.8" fill="#d4cee8" stroke="#1a1a1a" stroke-width="1.3"/>
<circle cx="183.1" cy="1429.4" r="6.4" fill="#efebf6" stroke="#1a1a1a" stroke-width="1.3"/>
<circle cx="183.1" cy="1472.8" r="2.2" fill="#f8f6fb" stroke="#1a1a1a" stroke-width="1.3"/>
<circle cx="183.1" cy="1516.3" r="11.0" fill="#bdb4dd" stroke="#1a1a1a" stroke-width="1.3"/>
<circle cx="227.9" cy="1299.0" r="2.5" fill="#f8f6fb" stroke="#1a1a1a" stroke-width="1.3"/>
<circle cx="227.9" cy="1385.9" r="3.7" fill="#f8f6fb" stroke="#1a1a1a" stroke-width="1.3"/>
<circle cx="227.9" cy="1429.4" r="1.7" fill="#f8f6fb" stroke="#1a1a1a" stroke-width="1.3"/>
<circle cx="227.9" cy="1472.8" r="3.1" fill="#f8f6fb" stroke="#1a1a1a" stroke-width="1.3"/>
<circle cx="227.9" cy="1516.3" r="8.7" fill="#e5e0f0" stroke="#1a1a1a" stroke-width="1.3"/>
<circle cx="272.6" cy="1299.0" r="3.0" fill="#f8f6fb" stroke="#1a1a1a" stroke-width="1.3"/>
<circle cx="272.6" cy="1342.5" r="1.0" fill="#222"/>
<circle cx="272.6" cy="1385.9" r="8.2" fill="#eae6f3" stroke="#1a1a1a" stroke-width="1.3"/>
<circle cx="272.6" cy="1429.4" r="6.2" fill="#f1eef7" stroke="#1a1a1a" stroke-width="1.3"/>
<circle cx="272.6" cy="1472.8" r="1.8" fill="#f8f6fb" stroke="#1a1a1a" stroke-width="1.3"/>
<circle cx="272.6" cy="1516.3" r="9.2" fill="#dcd7ec" stroke="#1a1a1a" stroke-width="1.3"/>
<circle cx="317.3" cy="1299.0" r="3.3" fill="#f8f6fb" stroke="#1a1a1a" stroke-width="1.3"/>
<circle cx="317.3" cy="1342.5" r="1.2" fill="#222"/>
<circle cx="317.3" cy="1385.9" r="4.5" fill="#f8f6fb" stroke="#1a1a1a" stroke-width="1.3"/>
<circle cx="317.3" cy="1429.4" r="3.7" fill="#f8f6fb" stroke="#1a1a1a" stroke-width="1.3"/>
<circle cx="317.3" cy="1472.8" r="2.2" fill="#f8f6fb" stroke="#1a1a1a" stroke-width="1.3"/>
<circle cx="317.3" cy="1516.3" r="9.8" fill="#d4cee8" stroke="#1a1a1a" stroke-width="1.3"/>
<circle cx="362.0" cy="1299.0" r="3.3" fill="#f8f6fb" stroke="#1a1a1a" stroke-width="1.3"/>
<circle cx="362.0" cy="1342.5" r="1.2" fill="#222"/>
<circle cx="362.0" cy="1385.9" r="5.3" fill="#f2eff8" stroke="#1a1a1a" stroke-width="1.3"/>
<circle cx="362.0" cy="1429.4" r="4.6" fill="#f8f6fb" stroke="#1a1a1a" stroke-width="1.3"/>
<circle cx="362.0" cy="1472.8" r="2.5" fill="#f8f6fb" stroke="#1a1a1a" stroke-width="1.3"/>
<circle cx="362.0" cy="1516.3" r="10.6" fill="#bdb4dd" stroke="#1a1a1a" stroke-width="1.3"/>
<circle cx="406.8" cy="1299.0" r="1.8" fill="#222"/>
<circle cx="406.8" cy="1342.5" r="2.0" fill="#f8f6fb" stroke="#1a1a1a" stroke-width="1.3"/>
<circle cx="406.8" cy="1385.9" r="4.5" fill="#f8f6fb" stroke="#1a1a1a" stroke-width="1.3"/>
<circle cx="406.8" cy="1429.4" r="7.8" fill="#ece9f4" stroke="#1a1a1a" stroke-width="1.3"/>
<circle cx="406.8" cy="1472.8" r="1.7" fill="#222"/>
<circle cx="406.8" cy="1516.3" r="11.0" fill="#bdb4dd" stroke="#1a1a1a" stroke-width="1.3"/>
<circle cx="451.5" cy="1299.0" r="1.7" fill="#f8f6fb" stroke="#1a1a1a" stroke-width="1.3"/>
<circle cx="451.5" cy="1342.5" r="2.0" fill="#222"/>
<circle cx="451.5" cy="1385.9" r="6.4" fill="#efebf6" stroke="#1a1a1a" stroke-width="1.3"/>
<circle cx="451.5" cy="1429.4" r="12.4" fill="#8269b7" stroke="#1a1a1a" stroke-width="1.3"/>
<circle cx="451.5" cy="1472.8" r="4.4" fill="#f8f6fb" stroke="#1a1a1a" stroke-width="1.3"/>
<circle cx="451.5" cy="1516.3" r="8.8" fill="#d4cee8" stroke="#1a1a1a" stroke-width="1.3"/>
<circle cx="496.2" cy="1299.0" r="1.7" fill="#f8f6fb" stroke="#1a1a1a" stroke-width="1.3"/>
<circle cx="496.2" cy="1342.5" r="3.5" fill="#f8f6fb" stroke="#1a1a1a" stroke-width="1.3"/>
<circle cx="496.2" cy="1385.9" r="8.4" fill="#eae6f3" stroke="#1a1a1a" stroke-width="1.3"/>
<circle cx="496.2" cy="1429.4" r="16.2" fill="#4d2189" stroke="#1a1a1a" stroke-width="1.3"/>
<circle cx="496.2" cy="1472.8" r="5.3" fill="#f2eff8" stroke="#1a1a1a" stroke-width="1.3"/>
<circle cx="496.2" cy="1516.3" r="10.0" fill="#d4cee8" stroke="#1a1a1a" stroke-width="1.3"/>
<circle cx="541.0" cy="1385.9" r="1.8" fill="#f8f6fb" stroke="#1a1a1a" stroke-width="1.3"/>
<circle cx="541.0" cy="1429.4" r="2.5" fill="#f8f6fb" stroke="#1a1a1a" stroke-width="1.3"/>
<circle cx="541.0" cy="1472.8" r="7.2" fill="#e5e0f0" stroke="#1a1a1a" stroke-width="1.3"/>
<circle cx="541.0" cy="1516.3" r="11.0" fill="#bdb4dd" stroke="#1a1a1a" stroke-width="1.3"/>
<circle cx="585.7" cy="1342.5" r="1.3" fill="#222"/>
<circle cx="585.7" cy="1385.9" r="3.7" fill="#f8f6fb" stroke="#1a1a1a" stroke-width="1.3"/>
<circle cx="585.7" cy="1429.4" r="1.8" fill="#f8f6fb" stroke="#1a1a1a" stroke-width="1.3"/>
<circle cx="585.7" cy="1516.3" r="7.6" fill="#ece9f4" stroke="#1a1a1a" stroke-width="1.3"/>
<circle cx="630.4" cy="1299.0" r="16.4" fill="#2a0869" stroke="#1a1a1a" stroke-width="1.3"/>
<circle cx="630.4" cy="1385.9" r="13.7" fill="#41197f" stroke="#1a1a1a" stroke-width="1.3"/>
<circle cx="630.4" cy="1429.4" r="5.3" fill="#f4f2f9" stroke="#1a1a1a" stroke-width="1.3"/>
<circle cx="630.4" cy="1472.8" r="3.0" fill="#f8f6fb" stroke="#1a1a1a" stroke-width="1.3"/>
<circle cx="630.4" cy="1516.3" r="11.2" fill="#b1a5d7" stroke="#1a1a1a" stroke-width="1.3"/>
<rect x="124.0" y="1274.0" width="528.2" height="262.1" fill="none" stroke="#000" stroke-width="2.2"/>
<text x="112.0" y="1311.2" text-anchor="end" font-size="24.4" font-style="italic">POU2F3</text>
<text x="112.0" y="1353.6" text-anchor="end" font-size="24.4" font-style="italic">C11orf53</text>
<text x="112.0" y="1396.1" text-anchor="end" font-size="24.4" font-style="italic">COLCA2</text>
<text x="112.0" y="1438.5" text-anchor="end" font-size="24.4" font-style="italic">OCA-B</text>
<text x="112.0" y="1481.0" text-anchor="end" font-size="24.4" font-style="italic">POU2F2</text>
<text x="112.0" y="1523.4" text-anchor="end" font-size="24.4" font-style="italic">POU2F1</text>
<text x="148.4" y="1556.1" text-anchor="end" font-size="24.6" transform="rotate(-45 148.4 1556.1)">Differentiating</text>
<text x="193.1" y="1556.1" text-anchor="end" font-size="24.6" transform="rotate(-45 193.1 1556.1)">Proliferating</text>
<text x="237.9" y="1556.1" text-anchor="end" font-size="24.6" transform="rotate(-45 237.9 1556.1)">Proteasoma</text>
<text x="282.6" y="1556.1" text-anchor="end" font-size="24.6" transform="rotate(-45 282.6 1556.1)">KRT8 high</text>
<text x="327.3" y="1556.1" text-anchor="end" font-size="24.6" transform="rotate(-45 327.3 1556.1)">Mature mucus secretory</text>
<text x="372.0" y="1556.1" text-anchor="end" font-size="24.6" transform="rotate(-45 372.0 1556.1)">Mucus secretory</text>
<text x="416.8" y="1556.1" text-anchor="end" font-size="24.6" transform="rotate(-45 416.8 1556.1)">Hybrid secretory early ciliating</text>
<text x="461.5" y="1556.1" text-anchor="end" font-size="24.6" transform="rotate(-45 461.5 1556.1)">Mature ciliated A</text>
<text x="506.2" y="1556.1" text-anchor="end" font-size="24.6" transform="rotate(-45 506.2 1556.1)">Mature ciliated B</text>
<text x="551.0" y="1556.1" text-anchor="end" font-size="24.6" transform="rotate(-45 551.0 1556.1)">PNEC</text>
<text x="595.7" y="1556.1" text-anchor="end" font-size="24.6" transform="rotate(-45 595.7 1556.1)">Ionocyte</text>
<text x="640.4" y="1556.1" text-anchor="end" font-size="24.6" fill="#d7191c" transform="rotate(-45 640.4 1556.1)">Tuft-like</text>
<text x="372.0" y="1262.0" text-anchor="middle" font-size="24.5">human bronchi</text>
<line x1="57.0" y1="1662.6" x2="184.4" y2="1662.6" stroke="#000" stroke-width="1.6"/>
<text x="126.5" y="1686.0" text-anchor="middle">Basal</text>
<circle cx="1577.3" cy="88.1" r="0.6" fill="#c8c8c8"/>
<circle cx="1616.4" cy="88.1" r="0.6" fill="#c8c8c8"/>
<circle cx="1655.5" cy="88.1" r="0.6" fill="#c8c8c8"/>
<circle cx="1694.6" cy="88.1" r="1.0" fill="#8a8a8a"/>
<circle cx="1733.7" cy="88.1" r="0.6" fill="#c8c8c8"/>
<circle cx="1772.8" cy="88.1" r="3.2" fill="#bdb4dd" stroke="#505050" stroke-width="0.9"/>
<text x="1789.5" y="95.6" font-size="24.2">Endothelial</text>
<circle cx="1655.5" cy="108.9" r="0.6" fill="#c8c8c8"/>
<circle cx="1694.6" cy="108.9" r="1.0" fill="#8a8a8a"/>
<circle cx="1733.7" cy="108.9" r="1.0" fill="#8a8a8a"/>
<circle cx="1772.8" cy="108.9" r="1.8" fill="#f6f3fa" stroke="#505050" stroke-width="0.9"/>
<text x="1789.5" y="116.4" font-size="24.2">Erythrocyte</text>
<circle cx="1577.3" cy="129.6" r="2.4" fill="#f6f3fa" stroke="#505050" stroke-width="0.9"/>
<circle cx="1616.4" cy="129.6" r="1.8" fill="#f6f3fa" stroke="#505050" stroke-width="0.9"/>
<circle cx="1655.5" cy="129.6" r="2.4" fill="#c8c1e3" stroke="#505050" stroke-width="0.9"/>
<circle cx="1694.6" cy="129.6" r="3.0" fill="#f6f3fa" stroke="#505050" stroke-width="0.9"/>
<circle cx="1733.7" cy="129.6" r="1.8" fill="#f6f3fa" stroke="#505050" stroke-width="0.9"/>
<circle cx="1772.8" cy="129.6" r="4.8" fill="#a495ce" stroke="#505050" stroke-width="0.9"/>
<text x="1789.5" y="137.1" font-size="24.2">Fibroblast</text>
<circle cx="1577.3" cy="150.4" r="2.4" fill="#f6f3fa" stroke="#505050" stroke-width="0.9"/>
<circle cx="1616.4" cy="150.4" r="1.0" fill="#8a8a8a"/>
<circle cx="1655.5" cy="150.4" r="1.0" fill="#8a8a8a"/>
<circle cx="1694.6" cy="150.4" r="3.8" fill="#f6f3fa" stroke="#505050" stroke-width="0.9"/>
<circle cx="1733.7" cy="150.4" r="4.5" fill="#ece9f4" stroke="#505050" stroke-width="0.9"/>
<circle cx="1772.8" cy="150.4" r="4.8" fill="#a495ce" stroke="#505050" stroke-width="0.9"/>
<text x="1789.5" y="157.9" font-size="24.2">APCs</text>
<text x="1553.0" y="127.3" text-anchor="end" font-size="24.4">aorta</text>
<circle cx="1577.3" cy="171.2" r="1.0" fill="#8a8a8a"/>
<circle cx="1616.4" cy="171.2" r="0.6" fill="#c8c8c8"/>
<circle cx="1655.5" cy="171.2" r="2.2" fill="#a9a9b4" stroke="#777" stroke-width="0.7"/>
<circle cx="1694.6" cy="171.2" r="0.6" fill="#c8c8c8"/>
<circle cx="1733.7" cy="171.2" r="0.6" fill="#c8c8c8"/>
<circle cx="1772.8" cy="171.2" r="3.0" fill="#f6f3fa" stroke="#505050" stroke-width="0.9"/>
<text x="1789.5" y="178.7" font-size="24.2">Bladder</text>
<circle cx="1577.3" cy="191.9" r="2.4" fill="#f6f3fa" stroke="#505050" stroke-width="0.9"/>
<circle cx="1655.5" cy="191.9" r="2.4" fill="#f6f3fa" stroke="#505050" stroke-width="0.9"/>
<circle cx="1694.6" cy="191.9" r="1.0" fill="#8a8a8a"/>
<circle cx="1733.7" cy="191.9" r="0.6" fill="#c8c8c8"/>
<circle cx="1772.8" cy="191.9" r="5.0" fill="#d4cee8" stroke="#505050" stroke-width="0.9"/>
<text x="1789.5" y="199.4" font-size="24.2">Urothelial</text>
<text x="1553.0" y="187.1" text-anchor="end" font-size="24.4">bladder</text>
<circle cx="1655.5" cy="212.7" r="1.0" fill="#8a8a8a"/>
<circle cx="1733.7" cy="212.7" r="9.6" fill="#c8c1e3" stroke="#505050" stroke-width="0.9"/>
<circle cx="1772.8" cy="212.7" r="3.0" fill="#f6f3fa" stroke="#505050" stroke-width="0.9"/>
<text x="1789.5" y="220.2" font-size="24.2">Macrophage</text>
<circle cx="1577.3" cy="233.5" r="0.6" fill="#c8c8c8"/>
<circle cx="1616.4" cy="233.5" r="0.6" fill="#c8c8c8"/>
<circle cx="1655.5" cy="233.5" r="0.6" fill="#c8c8c8"/>
<circle cx="1694.6" cy="233.5" r="1.0" fill="#8a8a8a"/>
<circle cx="1733.7" cy="233.5" r="9.0" fill="#bdb4dd" stroke="#505050" stroke-width="0.9"/>
<circle cx="1772.8" cy="233.5" r="3.0" fill="#f6f3fa" stroke="#505050" stroke-width="0.9"/>
<text x="1789.5" y="241.0" font-size="24.2">Microglial</text>
<circle cx="1655.5" cy="254.2" r="3.8" fill="#391276" stroke="#1b0840" stroke-width="0.9"/>
<circle cx="1733.7" cy="254.2" r="1.0" fill="#8a8a8a"/>
<circle cx="1772.8" cy="254.2" r="6.5" fill="#a495ce" stroke="#505050" stroke-width="0.9"/>
<text x="1789.5" y="261.7" font-size="24.2">BG</text>
<circle cx="1616.4" cy="275.0" r="0.6" fill="#c8c8c8"/>
<circle cx="1655.5" cy="275.0" r="1.5" fill="#a9a9b4" stroke="#777" stroke-width="0.7"/>
<circle cx="1694.6" cy="275.0" r="1.0" fill="#8a8a8a"/>
<circle cx="1733.7" cy="275.0" r="0.6" fill="#c8c8c8"/>
<circle cx="1772.8" cy="275.0" r="6.5" fill="#2a0869" stroke="#1b0840" stroke-width="0.9"/>
<text x="1789.5" y="282.5" font-size="24.2">Astrocyte</text>
<circle cx="1577.3" cy="295.8" r="6.3" fill="#b1a5d7" stroke="#505050" stroke-width="0.9"/>
<circle cx="1655.5" cy="295.8" r="1.0" fill="#8a8a8a"/>
<circle cx="1694.6" cy="295.8" r="1.0" fill="#8a8a8a"/>
<circle cx="1733.7" cy="295.8" r="1.0" fill="#8a8a8a"/>
<circle cx="1772.8" cy="295.8" r="3.6" fill="#e5e0f0" stroke="#505050" stroke-width="0.9"/>
<text x="1789.5" y="303.3" font-size="24.2">Pericyte</text>
<circle cx="1577.3" cy="316.5" r="1.0" fill="#8a8a8a"/>
<circle cx="1616.4" cy="316.5" r="0.6" fill="#c8c8c8"/>
<circle cx="1655.5" cy="316.5" r="3.5" fill="#7052aa" stroke="#352a55" stroke-width="0.9"/>
<circle cx="1694.6" cy="316.5" r="1.0" fill="#8a8a8a"/>
<circle cx="1772.8" cy="316.5" r="3.6" fill="#e5e0f0" stroke="#505050" stroke-width="0.9"/>
<text x="1789.5" y="324.0" font-size="24.2">Endothelial</text>
<circle cx="1577.3" cy="337.3" r="1.0" fill="#8a8a8a"/>
<circle cx="1616.4" cy="337.3" r="0.6" fill="#c8c8c8"/>
<circle cx="1655.5" cy="337.3" r="0.6" fill="#c8c8c8"/>
<circle cx="1694.6" cy="337.3" r="1.0" fill="#8a8a8a"/>
<circle cx="1733.7" cy="337.3" r="3.0" fill="#f6f3fa" stroke="#505050" stroke-width="0.9"/>
<circle cx="1772.8" cy="337.3" r="6.2" fill="#b1a5d7" stroke="#505050" stroke-width="0.9"/>
<text x="1789.5" y="344.8" font-size="24.2">Neuron</text>
<circle cx="1577.3" cy="358.1" r="0.6" fill="#c8c8c8"/>
<circle cx="1616.4" cy="358.1" r="0.6" fill="#c8c8c8"/>
<circle cx="1655.5" cy="358.1" r="0.6" fill="#c8c8c8"/>
<circle cx="1694.6" cy="358.1" r="1.0" fill="#8a8a8a"/>
<circle cx="1733.7" cy="358.1" r="0.6" fill="#c8c8c8"/>
<circle cx="1772.8" cy="358.1" r="3.6" fill="#e5e0f0" stroke="#505050" stroke-width="0.9"/>
<text x="1789.5" y="365.6" font-size="24.2">OLGs</text>
<circle cx="1655.5" cy="378.9" r="0.6" fill="#c8c8c8"/>
<circle cx="1694.6" cy="378.9" r="1.0" fill="#8a8a8a"/>
<circle cx="1733.7" cy="378.9" r="3.0" fill="#f6f3fa" stroke="#505050" stroke-width="0.9"/>
<circle cx="1772.8" cy="378.9" r="4.5" fill="#d4cee8" stroke="#505050" stroke-width="0.9"/>
<text x="1789.5" y="386.4" font-size="24.2">OPCs</text>
<text x="1553.0" y="301.3" text-anchor="end" font-size="24.4">brain</text>
<circle cx="1772.8" cy="399.6" r="1.0" fill="#8a8a8a"/>
<text x="1789.5" y="407.1" font-size="24.2">Endothelial</text>
<circle cx="1616.4" cy="420.4" r="1.5" fill="#a9a9b4" stroke="#777" stroke-width="0.7"/>
<circle cx="1655.5" cy="420.4" r="1.0" fill="#8a8a8a"/>
<circle cx="1694.6" cy="420.4" r="9.5" fill="#d4cee8" stroke="#505050" stroke-width="0.9"/>
<circle cx="1733.7" cy="420.4" r="6.5" fill="#ece9f4" stroke="#505050" stroke-width="0.9"/>
<circle cx="1772.8" cy="420.4" r="3.8" fill="#bdb4dd" stroke="#505050" stroke-width="0.9"/>
<text x="1789.5" y="427.9" font-size="24.2">Lmphocyte</text>
<circle cx="1655.5" cy="441.2" r="2.0" fill="#a9a9b4" stroke="#777" stroke-width="0.7"/>
<circle cx="1733.7" cy="441.2" r="6.0" fill="#ece9f4" stroke="#505050" stroke-width="0.9"/>
<circle cx="1772.8" cy="441.2" r="1.0" fill="#8a8a8a"/>
<text x="1789.5" y="448.7" font-size="24.2">Macrophage</text>
<circle cx="1577.3" cy="461.9" r="1.0" fill="#8a8a8a"/>
<circle cx="1655.5" cy="461.9" r="1.0" fill="#8a8a8a"/>
<circle cx="1772.8" cy="461.9" r="2.2" fill="#f6f3fa" stroke="#505050" stroke-width="0.9"/>
<text x="1789.5" y="469.4" font-size="24.2">MSC</text>
<circle cx="1655.5" cy="482.7" r="0.6" fill="#c8c8c8"/>
<circle cx="1694.6" cy="482.7" r="1.0" fill="#8a8a8a"/>
<circle cx="1772.8" cy="482.7" r="1.8" fill="#f6f3fa" stroke="#505050" stroke-width="0.9"/>
<text x="1789.5" y="490.2" font-size="24.2">Skeletal MuSCs</text>
<text x="1553.0" y="446.7" text-anchor="end" font-size="24.4">diaphragm</text>
<circle cx="1616.4" cy="503.5" r="0.6" fill="#c8c8c8"/>
<circle cx="1655.5" cy="503.5" r="2.0" fill="#a9a9b4" stroke="#777" stroke-width="0.7"/>
<circle cx="1694.6" cy="503.5" r="10.0" fill="#8d77be" stroke="#352a55" stroke-width="0.9"/>
<circle cx="1733.7" cy="503.5" r="7.7" fill="#9884c6" stroke="#352a55" stroke-width="0.9"/>
<circle cx="1772.8" cy="503.5" r="3.5" fill="#b1a5d7" stroke="#505050" stroke-width="0.9"/>
<text x="1789.5" y="511.0" font-size="24.2">B</text>
<circle cx="1616.4" cy="524.2" r="0.6" fill="#c8c8c8"/>
<circle cx="1655.5" cy="524.2" r="0.6" fill="#c8c8c8"/>
<circle cx="1694.6" cy="524.2" r="2.0" fill="#f6f3fa" stroke="#505050" stroke-width="0.9"/>
<circle cx="1733.7" cy="524.2" r="2.0" fill="#f6f3fa" stroke="#505050" stroke-width="0.9"/>
<circle cx="1772.8" cy="524.2" r="3.0" fill="#f6f3fa" stroke="#505050" stroke-width="0.9"/>
<text x="1789.5" y="531.7" font-size="24.2">T</text>
<circle cx="1577.3" cy="545.0" r="0.6" fill="#c8c8c8"/>
<circle cx="1616.4" cy="545.0" r="0.6" fill="#c8c8c8"/>
<circle cx="1655.5" cy="545.0" r="0.6" fill="#c8c8c8"/>
<circle cx="1694.6" cy="545.0" r="1.0" fill="#8a8a8a"/>
<circle cx="1733.7" cy="545.0" r="0.6" fill="#c8c8c8"/>
<circle cx="1772.8" cy="545.0" r="2.4" fill="#f6f3fa" stroke="#505050" stroke-width="0.9"/>
<text x="1789.5" y="552.5" font-size="24.2">Endothelial</text>
<circle cx="1577.3" cy="565.8" r="1.2" fill="#a9a9b4" stroke="#777" stroke-width="0.7"/>
<circle cx="1616.4" cy="565.8" r="0.6" fill="#c8c8c8"/>
<circle cx="1655.5" cy="565.8" r="2.4" fill="#f6f3fa" stroke="#505050" stroke-width="0.9"/>
<circle cx="1694.6" cy="565.8" r="0.6" fill="#c8c8c8"/>
<circle cx="1733.7" cy="565.8" r="0.6" fill="#c8c8c8"/>
<circle cx="1772.8" cy="565.8" r="3.8" fill="#ece9f4" stroke="#505050" stroke-width="0.9"/>
<text x="1789.5" y="573.3" font-size="24.2">AdMSCs</text>
<circle cx="1577.3" cy="586.5" r="0.6" fill="#c8c8c8"/>
<circle cx="1616.4" cy="586.5" r="0.6" fill="#c8c8c8"/>
<circle cx="1655.5" cy="586.5" r="1.0" fill="#8a8a8a"/>
<circle cx="1694.6" cy="586.5" r="1.0" fill="#8a8a8a"/>
<circle cx="1733.7" cy="586.5" r="6.0" fill="#ece9f4" stroke="#505050" stroke-width="0.9"/>
<circle cx="1772.8" cy="586.5" r="3.1" fill="#f6f3fa" stroke="#505050" stroke-width="0.9"/>
<text x="1789.5" y="594.0" font-size="24.2">Myeloid</text>
<circle cx="1733.7" cy="607.3" r="1.5" fill="#a9a9b4" stroke="#777" stroke-width="0.7"/>
<circle cx="1772.8" cy="607.3" r="3.0" fill="#f6f3fa" stroke="#505050" stroke-width="0.9"/>
<text x="1789.5" y="614.8" font-size="24.2">Natural killer</text>
<text x="1553.0" y="560.9" text-anchor="end" font-size="24.4">fat</text>
<circle cx="1655.5" cy="628.1" r="0.6" fill="#c8c8c8"/>
<circle cx="1733.7" cy="628.1" r="0.6" fill="#c8c8c8"/>
<circle cx="1772.8" cy="628.1" r="4.2" fill="#dcd7ec" stroke="#505050" stroke-width="0.9"/>
<text x="1789.5" y="635.6" font-size="24.2">Cardiac muscle</text>
<circle cx="1616.4" cy="648.8" r="0.6" fill="#c8c8c8"/>
<circle cx="1655.5" cy="648.8" r="0.6" fill="#c8c8c8"/>
<circle cx="1694.6" cy="648.8" r="0.6" fill="#c8c8c8"/>
<circle cx="1772.8" cy="648.8" r="2.8" fill="#f6f3fa" stroke="#505050" stroke-width="0.9"/>
<text x="1789.5" y="656.3" font-size="24.2">Endocardial</text>
<circle cx="1616.4" cy="669.6" r="0.6" fill="#c8c8c8"/>
<circle cx="1694.6" cy="669.6" r="0.6" fill="#c8c8c8"/>
<circle cx="1733.7" cy="669.6" r="0.6" fill="#c8c8c8"/>
<circle cx="1772.8" cy="669.6" r="2.8" fill="#f6f3fa" stroke="#505050" stroke-width="0.9"/>
<text x="1789.5" y="677.1" font-size="24.2">Endothelial</text>
<circle cx="1577.3" cy="690.4" r="1.0" fill="#8a8a8a"/>
<circle cx="1655.5" cy="690.4" r="1.5" fill="#a9a9b4" stroke="#777" stroke-width="0.7"/>
<circle cx="1694.6" cy="690.4" r="0.6" fill="#c8c8c8"/>
<circle cx="1733.7" cy="690.4" r="0.6" fill="#c8c8c8"/>
<circle cx="1772.8" cy="690.4" r="2.8" fill="#f6f3fa" stroke="#505050" stroke-width="0.9"/>
<text x="1789.5" y="697.9" font-size="24.2">Fibroblast</text>
<circle cx="1577.3" cy="711.1" r="0.6" fill="#c8c8c8"/>
<circle cx="1655.5" cy="711.1" r="1.0" fill="#8a8a8a"/>
<circle cx="1694.6" cy="711.1" r="0.6" fill="#c8c8c8"/>
<circle cx="1733.7" cy="711.1" r="6.0" fill="#ece9f4" stroke="#505050" stroke-width="0.9"/>
<circle cx="1772.8" cy="711.1" r="2.8" fill="#f6f3fa" stroke="#505050" stroke-width="0.9"/>
<text x="1789.5" y="718.6" font-size="24.2">Leukocyte</text>
<circle cx="1577.3" cy="731.9" r="1.2" fill="#a9a9b4" stroke="#777" stroke-width="0.7"/>
<circle cx="1655.5" cy="731.9" r="1.2" fill="#a9a9b4" stroke="#777" stroke-width="0.7"/>
<circle cx="1694.6" cy="731.9" r="0.6" fill="#c8c8c8"/>
<circle cx="1733.7" cy="731.9" r="0.6" fill="#c8c8c8"/>
<circle cx="1772.8" cy="731.9" r="2.5" fill="#f6f3fa" stroke="#505050" stroke-width="0.9"/>
<text x="1789.5" y="739.4" font-size="24.2">Myofibroblast</text>
<circle cx="1577.3" cy="752.7" r="1.5" fill="#a9a9b4" stroke="#777" stroke-width="0.7"/>
<circle cx="1655.5" cy="752.7" r="0.6" fill="#c8c8c8"/>
<circle cx="1694.6" cy="752.7" r="0.6" fill="#c8c8c8"/>
<circle cx="1772.8" cy="752.7" r="5.0" fill="#9884c6" stroke="#352a55" stroke-width="0.9"/>
<text x="1789.5" y="760.2" font-size="24.2">Smooth muscle</text>
<text x="1553.0" y="695.9" text-anchor="end" font-size="24.4">heart</text>
<circle cx="1577.3" cy="773.4" r="0.6" fill="#c8c8c8"/>
<circle cx="1655.5" cy="773.4" r="1.0" fill="#8a8a8a"/>
<circle cx="1694.6" cy="773.4" r="1.0" fill="#8a8a8a"/>
<circle cx="1772.8" cy="773.4" r="2.0" fill="#a9a9b4" stroke="#777" stroke-width="0.7"/>
<text x="1789.5" y="780.9" font-size="24.2">Endothelial</text>
<circle cx="1772.8" cy="794.2" r="1.3" fill="#a9a9b4" stroke="#777" stroke-width="0.7"/>
<text x="1789.5" y="801.7" font-size="24.2">PTECs</text>
<circle cx="1733.7" cy="815.0" r="0.6" fill="#c8c8c8"/>
<circle cx="1772.8" cy="815.0" r="1.2" fill="#a9a9b4" stroke="#777" stroke-width="0.7"/>
<text x="1789.5" y="822.5" font-size="24.2">Collecting duct</text>
<circle cx="1694.6" cy="835.7" r="6.3" fill="#eae6f3" stroke="#505050" stroke-width="0.9"/>
<circle cx="1733.7" cy="835.7" r="1.8" fill="#f6f3fa" stroke="#505050" stroke-width="0.9"/>
<circle cx="1772.8" cy="835.7" r="3.0" fill="#c8c1e3" stroke="#505050" stroke-width="0.9"/>
<text x="1789.5" y="843.2" font-size="24.2">Leukocyte</text>
<circle cx="1733.7" cy="856.5" r="7.8" fill="#c8c1e3" stroke="#505050" stroke-width="0.9"/>
<circle cx="1772.8" cy="856.5" r="2.8" fill="#e5e0f0" stroke="#505050" stroke-width="0.9"/>
<text x="1789.5" y="864.0" font-size="24.2">Macrophage</text>
<text x="1553.0" y="820.5" text-anchor="end" font-size="24.4">kidney</text>
<circle cx="1577.3" cy="877.3" r="8.2" fill="#471d84" stroke="#1b0840" stroke-width="0.9"/>
<circle cx="1616.4" cy="877.3" r="7.5" fill="#2a0869" stroke="#1b0840" stroke-width="0.9"/>
<circle cx="1655.5" cy="877.3" r="3.3" fill="#2a0869" stroke="#1b0840" stroke-width="0.9"/>
<circle cx="1694.6" cy="877.3" r="2.0" fill="#f6f3fa" stroke="#505050" stroke-width="0.9"/>
<circle cx="1733.7" cy="877.3" r="2.0" fill="#a9a9b4" stroke="#777" stroke-width="0.7"/>
<circle cx="1772.8" cy="877.3" r="3.0" fill="#b1a5d7" stroke="#505050" stroke-width="0.9"/>
<text x="1789.5" y="884.8" font-size="24.2" fill="#d7191c">Tuft</text>
<circle cx="1577.3" cy="898.1" r="0.6" fill="#c8c8c8"/>
<circle cx="1616.4" cy="898.1" r="0.6" fill="#c8c8c8"/>
<circle cx="1655.5" cy="898.1" r="0.6" fill="#c8c8c8"/>
<circle cx="1694.6" cy="898.1" r="1.0" fill="#8a8a8a"/>
<circle cx="1733.7" cy="898.1" r="0.6" fill="#c8c8c8"/>
<circle cx="1772.8" cy="898.1" r="3.0" fill="#f6f3fa" stroke="#505050" stroke-width="0.9"/>
<text x="1789.5" y="905.6" font-size="24.2">Enterocyte</text>
<circle cx="1577.3" cy="918.8" r="1.0" fill="#8a8a8a"/>
<circle cx="1655.5" cy="918.8" r="1.5" fill="#a9a9b4" stroke="#777" stroke-width="0.7"/>
<circle cx="1733.7" cy="918.8" r="0.6" fill="#c8c8c8"/>
<circle cx="1772.8" cy="918.8" r="3.6" fill="#f2eff8" stroke="#505050" stroke-width="0.9"/>
<text x="1789.5" y="926.3" font-size="24.2">Enteroendocrine</text>
<circle cx="1577.3" cy="939.6" r="0.6" fill="#c8c8c8"/>
<circle cx="1616.4" cy="939.6" r="1.0" fill="#8a8a8a"/>
<circle cx="1655.5" cy="939.6" r="2.5" fill="#f6f3fa" stroke="#505050" stroke-width="0.9"/>
<circle cx="1694.6" cy="939.6" r="1.0" fill="#8a8a8a"/>
<circle cx="1733.7" cy="939.6" r="0.6" fill="#c8c8c8"/>
<circle cx="1772.8" cy="939.6" r="4.6" fill="#dcd7ec" stroke="#505050" stroke-width="0.9"/>
<text x="1789.5" y="947.1" font-size="24.2">Other Epithelial</text>
<circle cx="1616.4" cy="960.4" r="0.6" fill="#c8c8c8"/>
<circle cx="1655.5" cy="960.4" r="3.2" fill="#bdb4dd" stroke="#505050" stroke-width="0.9"/>
<circle cx="1694.6" cy="960.4" r="1.0" fill="#8a8a8a"/>
<circle cx="1733.7" cy="960.4" r="0.6" fill="#c8c8c8"/>
<circle cx="1772.8" cy="960.4" r="3.6" fill="#f2eff8" stroke="#505050" stroke-width="0.9"/>
<text x="1789.5" y="967.9" font-size="24.2">Goblet</text>
<text x="1553.0" y="909.3" text-anchor="end" font-size="24.4">large</text>
<text x="1553.0" y="938.2" text-anchor="end" font-size="24.4">intestine</text>
<circle cx="1616.4" cy="981.1" r="0.6" fill="#c8c8c8"/>
<circle cx="1655.5" cy="981.1" r="1.2" fill="#a9a9b4" stroke="#777" stroke-width="0.7"/>
<circle cx="1694.6" cy="981.1" r="11.0" fill="#8269b7" stroke="#352a55" stroke-width="0.9"/>
<circle cx="1733.7" cy="981.1" r="6.0" fill="#eae6f3" stroke="#505050" stroke-width="0.9"/>
<circle cx="1772.8" cy="981.1" r="3.5" fill="#b1a5d7" stroke="#505050" stroke-width="0.9"/>
<text x="1789.5" y="988.6" font-size="24.2">B</text>
<circle cx="1694.6" cy="1001.9" r="2.4" fill="#f6f3fa" stroke="#505050" stroke-width="0.9"/>
<circle cx="1733.7" cy="1001.9" r="1.2" fill="#a9a9b4" stroke="#777" stroke-width="0.7"/>
<circle cx="1772.8" cy="1001.9" r="3.3" fill="#b1a5d7" stroke="#505050" stroke-width="0.9"/>
<text x="1789.5" y="1009.4" font-size="24.2">T</text>
<circle cx="1772.8" cy="1022.7" r="2.6" fill="#f6f3fa" stroke="#505050" stroke-width="0.9"/>
<text x="1789.5" y="1030.2" font-size="24.2">Endothelial</text>
<circle cx="1655.5" cy="1043.4" r="1.0" fill="#8a8a8a"/>
<circle cx="1694.6" cy="1043.4" r="1.0" fill="#8a8a8a"/>
<circle cx="1733.7" cy="1043.4" r="4.5" fill="#f2eff8" stroke="#505050" stroke-width="0.9"/>
<circle cx="1772.8" cy="1043.4" r="2.6" fill="#f6f3fa" stroke="#505050" stroke-width="0.9"/>
<text x="1789.5" y="1050.9" font-size="24.2">Macrophage</text>
<circle cx="1577.3" cy="1064.2" r="0.6" fill="#c8c8c8"/>
<circle cx="1655.5" cy="1064.2" r="1.0" fill="#8a8a8a"/>
<circle cx="1694.6" cy="1064.2" r="0.6" fill="#c8c8c8"/>
<circle cx="1733.7" cy="1064.2" r="0.6" fill="#c8c8c8"/>
<circle cx="1772.8" cy="1064.2" r="2.6" fill="#f6f3fa" stroke="#505050" stroke-width="0.9"/>
<text x="1789.5" y="1071.7" font-size="24.2">MSC</text>
<circle cx="1577.3" cy="1085.0" r="0.6" fill="#c8c8c8"/>
<circle cx="1655.5" cy="1085.0" r="0.6" fill="#c8c8c8"/>
<circle cx="1694.6" cy="1085.0" r="0.6" fill="#c8c8c8"/>
<circle cx="1733.7" cy="1085.0" r="0.6" fill="#c8c8c8"/>
<circle cx="1772.8" cy="1085.0" r="2.6" fill="#f6f3fa" stroke="#505050" stroke-width="0.9"/>
<text x="1789.5" y="1092.5" font-size="24.2">skeletal  MuSCs</text>
<text x="1553.0" y="1023.5" text-anchor="end" font-size="24.4">limb</text>
<text x="1553.0" y="1052.4" text-anchor="end" font-size="24.4">muscle</text>
<circle cx="1655.5" cy="1105.7" r="1.0" fill="#8a8a8a"/>
<circle cx="1694.6" cy="1105.7" r="11.2" fill="#7052aa" stroke="#352a55" stroke-width="0.9"/>
<circle cx="1733.7" cy="1105.7" r="7.7" fill="#a495ce" stroke="#505050" stroke-width="0.9"/>
<circle cx="1772.8" cy="1105.7" r="3.8" fill="#b1a5d7" stroke="#505050" stroke-width="0.9"/>
<text x="1789.5" y="1113.2" font-size="24.2">B</text>
<circle cx="1694.6" cy="1126.5" r="1.8" fill="#a9a9b4" stroke="#777" stroke-width="0.7"/>
<circle cx="1733.7" cy="1126.5" r="7.2" fill="#c8c1e3" stroke="#505050" stroke-width="0.9"/>
<circle cx="1772.8" cy="1126.5" r="1.2" fill="#a9a9b4" stroke="#777" stroke-width="0.7"/>
<text x="1789.5" y="1134.0" font-size="24.2">Kupffer</text>
<circle cx="1733.7" cy="1147.3" r="1.0" fill="#8a8a8a"/>
<circle cx="1772.8" cy="1147.3" r="2.0" fill="#f6f3fa" stroke="#505050" stroke-width="0.9"/>
<text x="1789.5" y="1154.8" font-size="24.2">LSESc</text>
<circle cx="1616.4" cy="1168.0" r="2.7" fill="#f6f3fa" stroke="#505050" stroke-width="0.9"/>
<circle cx="1655.5" cy="1168.0" r="0.6" fill="#c8c8c8"/>
<circle cx="1694.6" cy="1168.0" r="0.6" fill="#c8c8c8"/>
<circle cx="1733.7" cy="1168.0" r="0.6" fill="#c8c8c8"/>
<circle cx="1772.8" cy="1168.0" r="4.0" fill="#f6f3fa" stroke="#505050" stroke-width="0.9"/>
<text x="1789.5" y="1175.5" font-size="24.2">Hepatocyte</text>
<circle cx="1733.7" cy="1188.8" r="2.7" fill="#f6f3fa" stroke="#505050" stroke-width="0.9"/>
<circle cx="1772.8" cy="1188.8" r="3.6" fill="#dcd7ec" stroke="#505050" stroke-width="0.9"/>
<text x="1789.5" y="1196.3" font-size="24.2">NK</text>
<text x="1553.0" y="1152.8" text-anchor="end" font-size="24.4">liver</text>
<circle cx="1616.4" cy="1209.6" r="2.2" fill="#f6f3fa" stroke="#505050" stroke-width="0.9"/>
<circle cx="1655.5" cy="1209.6" r="1.8" fill="#a9a9b4" stroke="#777" stroke-width="0.7"/>
<circle cx="1694.6" cy="1209.6" r="11.0" fill="#7052aa" stroke="#352a55" stroke-width="0.9"/>
<circle cx="1733.7" cy="1209.6" r="7.8" fill="#a495ce" stroke="#505050" stroke-width="0.9"/>
<circle cx="1772.8" cy="1209.6" r="3.8" fill="#a495ce" stroke="#505050" stroke-width="0.9"/>
<text x="1789.5" y="1217.1" font-size="24.2">B</text>
<circle cx="1655.5" cy="1230.3" r="1.3" fill="#a9a9b4" stroke="#777" stroke-width="0.7"/>
<circle cx="1694.6" cy="1230.3" r="1.3" fill="#a9a9b4" stroke="#777" stroke-width="0.7"/>
<circle cx="1733.7" cy="1230.3" r="2.4" fill="#f6f3fa" stroke="#505050" stroke-width="0.9"/>
<circle cx="1772.8" cy="1230.3" r="3.8" fill="#9884c6" stroke="#352a55" stroke-width="0.9"/>
<text x="1789.5" y="1237.8" font-size="24.2">T</text>
<circle cx="1577.3" cy="1251.1" r="1.3" fill="#a9a9b4" stroke="#777" stroke-width="0.7"/>
<circle cx="1655.5" cy="1251.1" r="2.5" fill="#a9a9b4" stroke="#777" stroke-width="0.7"/>
<circle cx="1772.8" cy="1251.1" r="1.3" fill="#a9a9b4" stroke="#777" stroke-width="0.7"/>
<text x="1789.5" y="1258.6" font-size="24.2">Ciliated columnar</text>
<circle cx="1655.5" cy="1271.9" r="1.0" fill="#8a8a8a"/>
<circle cx="1733.7" cy="1271.9" r="10.5" fill="#b1a5d7" stroke="#505050" stroke-width="0.9"/>
<circle cx="1772.8" cy="1271.9" r="2.5" fill="#f6f3fa" stroke="#505050" stroke-width="0.9"/>
<text x="1789.5" y="1279.4" font-size="24.2">Classical monocyte</text>
<circle cx="1577.3" cy="1292.6" r="0.6" fill="#c8c8c8"/>
<circle cx="1616.4" cy="1292.6" r="0.6" fill="#c8c8c8"/>
<circle cx="1655.5" cy="1292.6" r="3.3" fill="#542990" stroke="#1b0840" stroke-width="0.9"/>
<circle cx="1772.8" cy="1292.6" r="2.6" fill="#f6f3fa" stroke="#505050" stroke-width="0.9"/>
<text x="1789.5" y="1300.1" font-size="24.2">Epithelial</text>
<circle cx="1772.8" cy="1313.4" r="1.0" fill="#8a8a8a"/>
<text x="1789.5" y="1320.9" font-size="24.2">Leukocyte</text>
<circle cx="1577.3" cy="1334.2" r="0.6" fill="#c8c8c8"/>
<circle cx="1616.4" cy="1334.2" r="0.6" fill="#c8c8c8"/>
<circle cx="1655.5" cy="1334.2" r="1.0" fill="#8a8a8a"/>
<circle cx="1694.6" cy="1334.2" r="1.0" fill="#8a8a8a"/>
<circle cx="1733.7" cy="1334.2" r="0.6" fill="#c8c8c8"/>
<circle cx="1772.8" cy="1334.2" r="2.2" fill="#f6f3fa" stroke="#505050" stroke-width="0.9"/>
<text x="1789.5" y="1341.7" font-size="24.2">Endothelial</text>
<circle cx="1694.6" cy="1354.9" r="1.0" fill="#8a8a8a"/>
<circle cx="1733.7" cy="1354.9" r="12.5" fill="#2a0869" stroke="#1b0840" stroke-width="0.9"/>
<circle cx="1772.8" cy="1354.9" r="1.0" fill="#8a8a8a"/>
<text x="1789.5" y="1362.4" font-size="24.2">Monocyte</text>
<circle cx="1733.7" cy="1375.7" r="5.2" fill="#f2eff8" stroke="#505050" stroke-width="0.9"/>
<circle cx="1772.8" cy="1375.7" r="1.8" fill="#f6f3fa" stroke="#505050" stroke-width="0.9"/>
<text x="1789.5" y="1383.2" font-size="24.2">Myeloid</text>
<circle cx="1733.7" cy="1396.5" r="1.8" fill="#f6f3fa" stroke="#505050" stroke-width="0.9"/>
<circle cx="1772.8" cy="1396.5" r="1.0" fill="#8a8a8a"/>
<text x="1789.5" y="1404.0" font-size="24.2">NK</text>
<circle cx="1577.3" cy="1417.3" r="1.2" fill="#a9a9b4" stroke="#777" stroke-width="0.7"/>
<circle cx="1655.5" cy="1417.3" r="2.4" fill="#f6f3fa" stroke="#505050" stroke-width="0.9"/>
<circle cx="1694.6" cy="1417.3" r="1.0" fill="#8a8a8a"/>
<circle cx="1772.8" cy="1417.3" r="2.8" fill="#f6f3fa" stroke="#505050" stroke-width="0.9"/>
<text x="1789.5" y="1424.8" font-size="24.2">Stromal</text>
<text x="1553.0" y="1318.9" text-anchor="end" font-size="24.4">lung</text>
<circle cx="1577.3" cy="1438.0" r="0.6" fill="#c8c8c8"/>
<circle cx="1616.4" cy="1438.0" r="0.6" fill="#c8c8c8"/>
<circle cx="1655.5" cy="1438.0" r="2.8" fill="#a9a9b4" stroke="#777" stroke-width="0.7"/>
<circle cx="1694.6" cy="1438.0" r="1.5" fill="#a9a9b4" stroke="#777" stroke-width="0.7"/>
<circle cx="1733.7" cy="1438.0" r="0.6" fill="#c8c8c8"/>
<circle cx="1772.8" cy="1438.0" r="3.2" fill="#ece9f4" stroke="#505050" stroke-width="0.9"/>
<text x="1789.5" y="1445.5" font-size="24.2">Basal</text>
<circle cx="1655.5" cy="1458.8" r="1.0" fill="#8a8a8a"/>
<circle cx="1772.8" cy="1458.8" r="1.0" fill="#8a8a8a"/>
<text x="1789.5" y="1466.3" font-size="24.2">Endothelial</text>
<circle cx="1577.3" cy="1479.6" r="1.0" fill="#8a8a8a"/>
<circle cx="1655.5" cy="1479.6" r="0.6" fill="#c8c8c8"/>
<circle cx="1694.6" cy="1479.6" r="1.0" fill="#8a8a8a"/>
<circle cx="1772.8" cy="1479.6" r="3.2" fill="#f2eff8" stroke="#505050" stroke-width="0.9"/>
<text x="1789.5" y="1487.1" font-size="24.2">Luminal epithelial</text>
<circle cx="1577.3" cy="1500.3" r="0.6" fill="#c8c8c8"/>
<circle cx="1655.5" cy="1500.3" r="1.2" fill="#a9a9b4" stroke="#777" stroke-width="0.7"/>
<circle cx="1694.6" cy="1500.3" r="1.0" fill="#8a8a8a"/>
<circle cx="1733.7" cy="1500.3" r="0.6" fill="#c8c8c8"/>
<circle cx="1772.8" cy="1500.3" r="3.6" fill="#ece9f4" stroke="#505050" stroke-width="0.9"/>
<text x="1789.5" y="1507.8" font-size="24.2">Stromal</text>
<text x="1553.0" y="1459.7" text-anchor="end" font-size="24.4">mammary</text>
<text x="1553.0" y="1488.6" text-anchor="end" font-size="24.4">gland</text>
<circle cx="1616.4" cy="1521.1" r="1.2" fill="#a9a9b4" stroke="#777" stroke-width="0.7"/>
<circle cx="1655.5" cy="1521.1" r="1.8" fill="#a9a9b4" stroke="#777" stroke-width="0.7"/>
<circle cx="1694.6" cy="1521.1" r="11.5" fill="#bdb4dd" stroke="#505050" stroke-width="0.9"/>
<circle cx="1733.7" cy="1521.1" r="8.4" fill="#d4cee8" stroke="#505050" stroke-width="0.9"/>
<circle cx="1772.8" cy="1521.1" r="6.7" fill="#6846a3" stroke="#352a55" stroke-width="0.9"/>
<text x="1789.5" y="1528.6" font-size="24.2">B</text>
<circle cx="1655.5" cy="1541.9" r="1.0" fill="#8a8a8a"/>
<circle cx="1694.6" cy="1541.9" r="1.0" fill="#8a8a8a"/>
<circle cx="1733.7" cy="1541.9" r="6.4" fill="#f2eff8" stroke="#505050" stroke-width="0.9"/>
<circle cx="1772.8" cy="1541.9" r="5.2" fill="#bdb4dd" stroke="#505050" stroke-width="0.9"/>
<text x="1789.5" y="1549.4" font-size="24.2">Slamf1- MPCs</text>
<circle cx="1655.5" cy="1562.6" r="1.8" fill="#f6f3fa" stroke="#505050" stroke-width="0.9"/>
<circle cx="1694.6" cy="1562.6" r="1.0" fill="#8a8a8a"/>
<circle cx="1733.7" cy="1562.6" r="9.3" fill="#f2eff8" stroke="#505050" stroke-width="0.9"/>
<circle cx="1772.8" cy="1562.6" r="7.0" fill="#b1a5d7" stroke="#505050" stroke-width="0.9"/>
<text x="1789.5" y="1570.1" font-size="24.2">Slamf1+ MPCs</text>
<circle cx="1694.6" cy="1583.4" r="4.3" fill="#f6f3fa" stroke="#505050" stroke-width="0.9"/>
<circle cx="1733.7" cy="1583.4" r="2.4" fill="#f6f3fa" stroke="#505050" stroke-width="0.9"/>
<circle cx="1772.8" cy="1583.4" r="6.0" fill="#6846a3" stroke="#352a55" stroke-width="0.9"/>
<text x="1789.5" y="1590.9" font-size="24.2">Basophil</text>
<circle cx="1694.6" cy="1604.2" r="0.6" fill="#c8c8c8"/>
<circle cx="1733.7" cy="1604.2" r="6.0" fill="#f2eff8" stroke="#505050" stroke-width="0.9"/>
<circle cx="1772.8" cy="1604.2" r="10.4" fill="#2a0869" stroke="#1b0840" stroke-width="0.9"/>
<text x="1789.5" y="1611.7" font-size="24.2">CLP</text>
<circle cx="1655.5" cy="1624.9" r="0.6" fill="#c8c8c8"/>
<circle cx="1694.6" cy="1624.9" r="0.6" fill="#c8c8c8"/>
<circle cx="1733.7" cy="1624.9" r="0.6" fill="#c8c8c8"/>
<circle cx="1772.8" cy="1624.9" r="1.5" fill="#a9a9b4" stroke="#777" stroke-width="0.7"/>
<text x="1789.5" y="1632.4" font-size="24.2">Granulocyte</text>
<circle cx="1577.3" cy="1645.7" r="1.0" fill="#8a8a8a"/>
<circle cx="1694.6" cy="1645.7" r="1.0" fill="#8a8a8a"/>
<circle cx="1733.7" cy="1645.7" r="8.7" fill="#f2eff8" stroke="#505050" stroke-width="0.9"/>
<circle cx="1772.8" cy="1645.7" r="5.5" fill="#dcd7ec" stroke="#505050" stroke-width="0.9"/>
<text x="1789.5" y="1653.2" font-size="24.2">GMP</text>
<circle cx="1694.6" cy="1666.5" r="1.0" fill="#8a8a8a"/>
<circle cx="1772.8" cy="1666.5" r="5.0" fill="#bdb4dd" stroke="#505050" stroke-width="0.9"/>
<text x="1789.5" y="1674.0" font-size="24.2">Granulocytopoietic</text>
<circle cx="1577.3" cy="1687.2" r="0.6" fill="#c8c8c8"/>
<circle cx="1655.5" cy="1687.2" r="1.0" fill="#8a8a8a"/>
<circle cx="1694.6" cy="1687.2" r="0.6" fill="#c8c8c8"/>
<circle cx="1733.7" cy="1687.2" r="5.4" fill="#f4f2f9" stroke="#505050" stroke-width="0.9"/>
<circle cx="1772.8" cy="1687.2" r="6.0" fill="#a495ce" stroke="#505050" stroke-width="0.9"/>
<text x="1789.5" y="1694.7" font-size="24.2">HSC</text>
<circle cx="1616.4" cy="1708.0" r="2.0" fill="#f6f3fa" stroke="#505050" stroke-width="0.9"/>
<circle cx="1655.5" cy="1708.0" r="3.6" fill="#391276" stroke="#1b0840" stroke-width="0.9"/>
<circle cx="1694.6" cy="1708.0" r="13.5" fill="#542990" stroke="#1b0840" stroke-width="0.9"/>
<circle cx="1733.7" cy="1708.0" r="12.0" fill="#542990" stroke="#1b0840" stroke-width="0.9"/>
<circle cx="1772.8" cy="1708.0" r="5.0" fill="#a495ce" stroke="#505050" stroke-width="0.9"/>
<text x="1789.5" y="1715.5" font-size="24.2">Immature B</text>
<circle cx="1694.6" cy="1728.8" r="2.2" fill="#f6f3fa" stroke="#505050" stroke-width="0.9"/>
<circle cx="1733.7" cy="1728.8" r="2.0" fill="#f6f3fa" stroke="#505050" stroke-width="0.9"/>
<circle cx="1772.8" cy="1728.8" r="5.0" fill="#a495ce" stroke="#505050" stroke-width="0.9"/>
<text x="1789.5" y="1736.3" font-size="24.2">Immature NK T</text>
<circle cx="1694.6" cy="1749.5" r="1.0" fill="#8a8a8a"/>
<circle cx="1733.7" cy="1749.5" r="3.0" fill="#f6f3fa" stroke="#505050" stroke-width="0.9"/>
<circle cx="1772.8" cy="1749.5" r="4.0" fill="#c8c1e3" stroke="#505050" stroke-width="0.9"/>
<text x="1789.5" y="1757.0" font-size="24.2">Immature T</text>
<circle cx="1733.7" cy="1770.3" r="1.0" fill="#8a8a8a"/>
<circle cx="1772.8" cy="1770.3" r="1.0" fill="#8a8a8a"/>
<text x="1789.5" y="1777.8" font-size="24.2">Immature NK</text>
<circle cx="1577.3" cy="1791.1" r="0.6" fill="#c8c8c8"/>
<circle cx="1616.4" cy="1791.1" r="2.2" fill="#f6f3fa" stroke="#505050" stroke-width="0.9"/>
<circle cx="1655.5" cy="1791.1" r="5.0" fill="#8d77be" stroke="#352a55" stroke-width="0.9"/>
<circle cx="1694.6" cy="1791.1" r="14.0" fill="#391276" stroke="#1b0840" stroke-width="0.9"/>
<circle cx="1733.7" cy="1791.1" r="7.0" fill="#f4f2f9" stroke="#505050" stroke-width="0.9"/>
<circle cx="1772.8" cy="1791.1" r="8.7" fill="#2a0869" stroke="#1b0840" stroke-width="0.9"/>
<text x="1789.5" y="1798.6" font-size="24.2">Late pro-B</text>
<circle cx="1694.6" cy="1811.8" r="1.8" fill="#f6f3fa" stroke="#505050" stroke-width="0.9"/>
<circle cx="1733.7" cy="1811.8" r="4.6" fill="#f4f2f9" stroke="#505050" stroke-width="0.9"/>
<circle cx="1772.8" cy="1811.8" r="5.0" fill="#a495ce" stroke="#505050" stroke-width="0.9"/>
<text x="1789.5" y="1819.3" font-size="24.2">Macrophage</text>
<circle cx="1694.6" cy="1832.6" r="1.0" fill="#8a8a8a"/>
<circle cx="1733.7" cy="1832.6" r="1.8" fill="#f6f3fa" stroke="#505050" stroke-width="0.9"/>
<circle cx="1772.8" cy="1832.6" r="3.6" fill="#ece9f4" stroke="#505050" stroke-width="0.9"/>
<text x="1789.5" y="1840.1" font-size="24.2">Mature NK</text>
<circle cx="1733.7" cy="1853.4" r="2.5" fill="#f6f3fa" stroke="#505050" stroke-width="0.9"/>
<circle cx="1772.8" cy="1853.4" r="6.8" fill="#8d77be" stroke="#352a55" stroke-width="0.9"/>
<text x="1789.5" y="1860.9" font-size="24.2">MEP</text>
<circle cx="1655.5" cy="1874.1" r="0.6" fill="#c8c8c8"/>
<circle cx="1694.6" cy="1874.1" r="1.0" fill="#8a8a8a"/>
<circle cx="1733.7" cy="1874.1" r="8.0" fill="#eae6f3" stroke="#505050" stroke-width="0.9"/>
<circle cx="1772.8" cy="1874.1" r="4.0" fill="#e5e0f0" stroke="#505050" stroke-width="0.9"/>
<text x="1789.5" y="1881.6" font-size="24.2">Monocyte</text>
<circle cx="1577.3" cy="1894.9" r="0.6" fill="#c8c8c8"/>
<circle cx="1616.4" cy="1894.9" r="1.3" fill="#a9a9b4" stroke="#777" stroke-width="0.7"/>
<circle cx="1655.5" cy="1894.9" r="2.6" fill="#a495ce" stroke="#505050" stroke-width="0.9"/>
<circle cx="1694.6" cy="1894.9" r="11.5" fill="#7052aa" stroke="#352a55" stroke-width="0.9"/>
<circle cx="1733.7" cy="1894.9" r="10.0" fill="#7052aa" stroke="#352a55" stroke-width="0.9"/>
<circle cx="1772.8" cy="1894.9" r="4.5" fill="#a495ce" stroke="#505050" stroke-width="0.9"/>
<text x="1789.5" y="1902.4" font-size="24.2">Naive B</text>
<circle cx="1694.6" cy="1915.7" r="3.3" fill="#f6f3fa" stroke="#505050" stroke-width="0.9"/>
<circle cx="1733.7" cy="1915.7" r="3.1" fill="#f6f3fa" stroke="#505050" stroke-width="0.9"/>
<circle cx="1772.8" cy="1915.7" r="7.0" fill="#8269b7" stroke="#352a55" stroke-width="0.9"/>
<text x="1789.5" y="1923.2" font-size="24.2">pre-NK</text>
<circle cx="1616.4" cy="1936.5" r="1.5" fill="#a9a9b4" stroke="#777" stroke-width="0.7"/>
<circle cx="1655.5" cy="1936.5" r="2.8" fill="#471d84" stroke="#1b0840" stroke-width="0.9"/>
<circle cx="1694.6" cy="1936.5" r="13.6" fill="#2a0869" stroke="#1b0840" stroke-width="0.9"/>
<circle cx="1733.7" cy="1936.5" r="6.0" fill="#e5e0f0" stroke="#505050" stroke-width="0.9"/>
<circle cx="1772.8" cy="1936.5" r="4.5" fill="#7052aa" stroke="#352a55" stroke-width="0.9"/>
<text x="1789.5" y="1944.0" font-size="24.2">Precursor B</text>
<text x="1553.0" y="1734.3" text-anchor="end" font-size="24.4">marrow</text>
<circle cx="1694.6" cy="1957.2" r="1.2" fill="#a9a9b4" stroke="#777" stroke-width="0.7"/>
<circle cx="1733.7" cy="1957.2" r="6.0" fill="#e5e0f0" stroke="#505050" stroke-width="0.9"/>
<circle cx="1772.8" cy="1957.2" r="2.2" fill="#f6f3fa" stroke="#505050" stroke-width="0.9"/>
<text x="1789.5" y="1964.7" font-size="24.2">Treg</text>
<circle cx="1655.5" cy="1978.0" r="1.0" fill="#8a8a8a"/>
<circle cx="1733.7" cy="1978.0" r="1.0" fill="#8a8a8a"/>
<circle cx="1772.8" cy="1978.0" r="4.2" fill="#dcd7ec" stroke="#505050" stroke-width="0.9"/>
<text x="1789.5" y="1985.5" font-size="24.2">Endothelial</text>
<circle cx="1655.5" cy="1998.8" r="1.0" fill="#8a8a8a"/>
<circle cx="1694.6" cy="1998.8" r="1.5" fill="#a9a9b4" stroke="#777" stroke-width="0.7"/>
<circle cx="1733.7" cy="1998.8" r="9.0" fill="#d4cee8" stroke="#505050" stroke-width="0.9"/>
<circle cx="1772.8" cy="1998.8" r="2.8" fill="#f6f3fa" stroke="#505050" stroke-width="0.9"/>
<text x="1789.5" y="2006.3" font-size="24.2">Leukocyte</text>
<circle cx="1577.3" cy="2019.5" r="0.6" fill="#c8c8c8"/>
<circle cx="1616.4" cy="2019.5" r="0.6" fill="#c8c8c8"/>
<circle cx="1655.5" cy="2019.5" r="1.5" fill="#a9a9b4" stroke="#777" stroke-width="0.7"/>
<circle cx="1694.6" cy="2019.5" r="2.0" fill="#f6f3fa" stroke="#505050" stroke-width="0.9"/>
<circle cx="1733.7" cy="2019.5" r="0.6" fill="#c8c8c8"/>
<circle cx="1772.8" cy="2019.5" r="5.2" fill="#c8c1e3" stroke="#505050" stroke-width="0.9"/>
<text x="1789.5" y="2027.0" font-size="24.2">Alpha</text>
<circle cx="1655.5" cy="2040.3" r="0.6" fill="#c8c8c8"/>
<circle cx="1694.6" cy="2040.3" r="0.6" fill="#c8c8c8"/>
<circle cx="1733.7" cy="2040.3" r="0.6" fill="#c8c8c8"/>
<circle cx="1772.8" cy="2040.3" r="7.0" fill="#5e3799" stroke="#352a55" stroke-width="0.9"/>
<text x="1789.5" y="2047.8" font-size="24.2">Delta</text>
<circle cx="1655.5" cy="2061.1" r="1.0" fill="#8a8a8a"/>
<circle cx="1772.8" cy="2061.1" r="4.7" fill="#ece9f4" stroke="#505050" stroke-width="0.9"/>
<text x="1789.5" y="2068.6" font-size="24.2">Polypeptide</text>
<circle cx="1772.8" cy="2081.8" r="2.0" fill="#f6f3fa" stroke="#505050" stroke-width="0.9"/>
<text x="1789.5" y="2089.3" font-size="24.2">Acinar</text>
<circle cx="1616.4" cy="2102.6" r="0.6" fill="#c8c8c8"/>
<circle cx="1655.5" cy="2102.6" r="3.5" fill="#9884c6" stroke="#352a55" stroke-width="0.9"/>
<circle cx="1694.6" cy="2102.6" r="1.0" fill="#8a8a8a"/>
<circle cx="1733.7" cy="2102.6" r="0.6" fill="#c8c8c8"/>
<circle cx="1772.8" cy="2102.6" r="5.6" fill="#b1a5d7" stroke="#505050" stroke-width="0.9"/>
<text x="1789.5" y="2110.1" font-size="24.2">Ductal</text>
<circle cx="1577.3" cy="2123.4" r="1.0" fill="#8a8a8a"/>
<circle cx="1655.5" cy="2123.4" r="2.5" fill="#f6f3fa" stroke="#505050" stroke-width="0.9"/>
<circle cx="1772.8" cy="2123.4" r="3.6" fill="#f2eff8" stroke="#505050" stroke-width="0.9"/>
<text x="1789.5" y="2130.9" font-size="24.2">Stellate</text>
<circle cx="1655.5" cy="2144.1" r="0.6" fill="#c8c8c8"/>
<circle cx="1733.7" cy="2144.1" r="0.6" fill="#c8c8c8"/>
<circle cx="1772.8" cy="2144.1" r="6.0" fill="#a495ce" stroke="#505050" stroke-width="0.9"/>
<text x="1789.5" y="2151.6" font-size="24.2">Beta</text>
<text x="1553.0" y="2056.2" text-anchor="end" font-size="24.4">pancreas</text>
<circle cx="1577.3" cy="2164.9" r="9.0" fill="#542990" stroke="#1b0840" stroke-width="0.9"/>
<circle cx="1655.5" cy="2164.9" r="1.0" fill="#8a8a8a"/>
<circle cx="1694.6" cy="2164.9" r="1.0" fill="#8a8a8a"/>
<circle cx="1733.7" cy="2164.9" r="1.0" fill="#8a8a8a"/>
<circle cx="1772.8" cy="2164.9" r="3.3" fill="#e5e0f0" stroke="#505050" stroke-width="0.9"/>
<text x="1789.5" y="2172.4" font-size="24.2">Epidermis basal</text>
<circle cx="1577.3" cy="2185.7" r="11.5" fill="#2a0869" stroke="#1b0840" stroke-width="0.9"/>
<circle cx="1655.5" cy="2185.7" r="0.6" fill="#c8c8c8"/>
<circle cx="1694.6" cy="2185.7" r="1.0" fill="#8a8a8a"/>
<circle cx="1733.7" cy="2185.7" r="0.6" fill="#c8c8c8"/>
<circle cx="1772.8" cy="2185.7" r="4.5" fill="#dcd7ec" stroke="#505050" stroke-width="0.9"/>
<text x="1789.5" y="2193.2" font-size="24.2">Epidermal</text>
<circle cx="1577.3" cy="2206.4" r="4.2" fill="#e5e0f0" stroke="#505050" stroke-width="0.9"/>
<circle cx="1616.4" cy="2206.4" r="0.6" fill="#c8c8c8"/>
<circle cx="1694.6" cy="2206.4" r="0.6" fill="#c8c8c8"/>
<circle cx="1733.7" cy="2206.4" r="0.6" fill="#c8c8c8"/>
<circle cx="1772.8" cy="2206.4" r="3.6" fill="#dcd7ec" stroke="#505050" stroke-width="0.9"/>
<text x="1789.5" y="2213.9" font-size="24.2">Keratinocyte stem</text>
<circle cx="1577.3" cy="2227.2" r="6.5" fill="#e5e0f0" stroke="#505050" stroke-width="0.9"/>
<circle cx="1655.5" cy="2227.2" r="1.8" fill="#a9a9b4" stroke="#777" stroke-width="0.7"/>
<circle cx="1694.6" cy="2227.2" r="2.0" fill="#f6f3fa" stroke="#505050" stroke-width="0.9"/>
<circle cx="1733.7" cy="2227.2" r="3.3" fill="#f6f3fa" stroke="#505050" stroke-width="0.9"/>
<circle cx="1772.8" cy="2227.2" r="9.0" fill="#c8c1e3" stroke="#505050" stroke-width="0.9"/>
<text x="1789.5" y="2234.7" font-size="24.2">Leukocyte</text>
<circle cx="1577.3" cy="2248.0" r="6.3" fill="#b1a5d7" stroke="#505050" stroke-width="0.9"/>
<circle cx="1772.8" cy="2248.0" r="7.2" fill="#2a0869" stroke="#1b0840" stroke-width="0.9"/>
<text x="1789.5" y="2255.5" font-size="24.2">Epidermis Stem</text>
<text x="1553.0" y="2211.9" text-anchor="end" font-size="24.4">skin</text>
<circle cx="1577.3" cy="2268.7" r="0.6" fill="#c8c8c8"/>
<circle cx="1616.4" cy="2268.7" r="1.2" fill="#a9a9b4" stroke="#777" stroke-width="0.7"/>
<circle cx="1655.5" cy="2268.7" r="1.5" fill="#a9a9b4" stroke="#777" stroke-width="0.7"/>
<circle cx="1694.6" cy="2268.7" r="10.3" fill="#8d77be" stroke="#352a55" stroke-width="0.9"/>
<circle cx="1733.7" cy="2268.7" r="9.0" fill="#8d77be" stroke="#352a55" stroke-width="0.9"/>
<circle cx="1772.8" cy="2268.7" r="3.6" fill="#b1a5d7" stroke="#505050" stroke-width="0.9"/>
<text x="1789.5" y="2276.2" font-size="24.2">B</text>
<circle cx="1694.6" cy="2289.5" r="1.8" fill="#f6f3fa" stroke="#505050" stroke-width="0.9"/>
<circle cx="1733.7" cy="2289.5" r="2.7" fill="#f6f3fa" stroke="#505050" stroke-width="0.9"/>
<circle cx="1772.8" cy="2289.5" r="3.6" fill="#b1a5d7" stroke="#505050" stroke-width="0.9"/>
<text x="1789.5" y="2297.0" font-size="24.2">T</text>
<circle cx="1733.7" cy="2310.3" r="2.4" fill="#f6f3fa" stroke="#505050" stroke-width="0.9"/>
<circle cx="1772.8" cy="2310.3" r="2.0" fill="#f6f3fa" stroke="#505050" stroke-width="0.9"/>
<text x="1789.5" y="2317.8" font-size="24.2">Macrophage</text>
<text x="1553.0" y="2295.0" text-anchor="end" font-size="24.4">spleen</text>
<circle cx="1694.6" cy="2331.0" r="1.0" fill="#8a8a8a"/>
<circle cx="1733.7" cy="2331.0" r="2.0" fill="#f6f3fa" stroke="#505050" stroke-width="0.9"/>
<circle cx="1772.8" cy="2331.0" r="2.0" fill="#f6f3fa" stroke="#505050" stroke-width="0.9"/>
<text x="1789.5" y="2338.5" font-size="24.2">DN1 pro-T</text>
<circle cx="1577.3" cy="2351.8" r="0.6" fill="#c8c8c8"/>
<circle cx="1616.4" cy="2351.8" r="0.6" fill="#c8c8c8"/>
<circle cx="1655.5" cy="2351.8" r="0.6" fill="#c8c8c8"/>
<circle cx="1694.6" cy="2351.8" r="1.0" fill="#8a8a8a"/>
<circle cx="1733.7" cy="2351.8" r="1.0" fill="#8a8a8a"/>
<circle cx="1772.8" cy="2351.8" r="3.6" fill="#a495ce" stroke="#505050" stroke-width="0.9"/>
<text x="1789.5" y="2359.3" font-size="24.2">Immature T</text>
<circle cx="1577.3" cy="2372.6" r="2.2" fill="#f6f3fa" stroke="#505050" stroke-width="0.9"/>
<circle cx="1616.4" cy="2372.6" r="2.2" fill="#f6f3fa" stroke="#505050" stroke-width="0.9"/>
<circle cx="1694.6" cy="2372.6" r="4.5" fill="#f2eff8" stroke="#505050" stroke-width="0.9"/>
<circle cx="1733.7" cy="2372.6" r="5.2" fill="#d4cee8" stroke="#505050" stroke-width="0.9"/>
<circle cx="1772.8" cy="2372.6" r="3.0" fill="#f6f3fa" stroke="#505050" stroke-width="0.9"/>
<text x="1789.5" y="2380.1" font-size="24.2">Leukocyte</text>
<text x="1553.0" y="2357.3" text-anchor="end" font-size="24.4">thymus</text>
<circle cx="1577.3" cy="2393.3" r="2.0" fill="#f6f3fa" stroke="#505050" stroke-width="0.9"/>
<circle cx="1616.4" cy="2393.3" r="0.6" fill="#c8c8c8"/>
<circle cx="1655.5" cy="2393.3" r="0.6" fill="#c8c8c8"/>
<circle cx="1694.6" cy="2393.3" r="1.0" fill="#8a8a8a"/>
<circle cx="1733.7" cy="2393.3" r="1.0" fill="#8a8a8a"/>
<circle cx="1772.8" cy="2393.3" r="4.5" fill="#d4cee8" stroke="#505050" stroke-width="0.9"/>
<text x="1789.5" y="2400.8" font-size="24.2">Epidermis</text>
<circle cx="1577.3" cy="2414.1" r="4.0" fill="#efebf6" stroke="#505050" stroke-width="0.9"/>
<circle cx="1655.5" cy="2414.1" r="0.6" fill="#c8c8c8"/>
<circle cx="1694.6" cy="2414.1" r="1.0" fill="#8a8a8a"/>
<circle cx="1733.7" cy="2414.1" r="0.6" fill="#c8c8c8"/>
<circle cx="1772.8" cy="2414.1" r="4.5" fill="#ece9f4" stroke="#505050" stroke-width="0.9"/>
<text x="1789.5" y="2421.6" font-size="24.2">Keratinocyte</text>
<text x="1553.0" y="2409.2" text-anchor="end" font-size="24.4">tongue</text>
<circle cx="1655.5" cy="2434.9" r="1.0" fill="#8a8a8a"/>
<circle cx="1694.6" cy="2434.9" r="1.2" fill="#a9a9b4" stroke="#777" stroke-width="0.7"/>
<circle cx="1733.7" cy="2434.9" r="5.0" fill="#f2eff8" stroke="#505050" stroke-width="0.9"/>
<circle cx="1772.8" cy="2434.9" r="4.5" fill="#bdb4dd" stroke="#505050" stroke-width="0.9"/>
<text x="1789.5" y="2442.4" font-size="24.2">Blood</text>
<circle cx="1694.6" cy="2455.7" r="1.0" fill="#8a8a8a"/>
<circle cx="1772.8" cy="2455.7" r="3.5" fill="#bdb4dd" stroke="#505050" stroke-width="0.9"/>
<text x="1789.5" y="2463.2" font-size="24.2">Endothelial</text>
<circle cx="1577.3" cy="2476.4" r="0.6" fill="#c8c8c8"/>
<circle cx="1616.4" cy="2476.4" r="0.6" fill="#c8c8c8"/>
<circle cx="1655.5" cy="2476.4" r="2.6" fill="#8d77be" stroke="#352a55" stroke-width="0.9"/>
<circle cx="1694.6" cy="2476.4" r="1.0" fill="#8a8a8a"/>
<circle cx="1733.7" cy="2476.4" r="0.6" fill="#c8c8c8"/>
<circle cx="1772.8" cy="2476.4" r="3.2" fill="#dcd7ec" stroke="#505050" stroke-width="0.9"/>
<text x="1789.5" y="2483.9" font-size="24.2">Epithelial</text>
<circle cx="1577.3" cy="2497.2" r="1.0" fill="#8a8a8a"/>
<circle cx="1655.5" cy="2497.2" r="1.2" fill="#a9a9b4" stroke="#777" stroke-width="0.7"/>
<circle cx="1694.6" cy="2497.2" r="1.0" fill="#8a8a8a"/>
<circle cx="1733.7" cy="2497.2" r="1.0" fill="#8a8a8a"/>
<circle cx="1772.8" cy="2497.2" r="3.2" fill="#ece9f4" stroke="#505050" stroke-width="0.9"/>
<text x="1789.5" y="2504.7" font-size="24.2">Mesenchymal</text>
<text x="1553.0" y="2471.5" text-anchor="end" font-size="24.4">trachea</text>
<line x1="1557.2" y1="157.9" x2="1786.4" y2="157.9" stroke="#000" stroke-width="2.3"/>
<line x1="1557.2" y1="200.4" x2="1786.4" y2="200.4" stroke="#000" stroke-width="2.3"/>
<line x1="1557.2" y1="387.7" x2="1786.4" y2="387.7" stroke="#000" stroke-width="2.3"/>
<line x1="1557.2" y1="491.0" x2="1786.4" y2="491.0" stroke="#000" stroke-width="2.3"/>
<line x1="1557.2" y1="617.4" x2="1786.4" y2="617.4" stroke="#000" stroke-width="2.3"/>
<line x1="1557.2" y1="760.1" x2="1786.4" y2="760.1" stroke="#000" stroke-width="2.3"/>
<line x1="1557.2" y1="866.9" x2="1786.4" y2="866.9" stroke="#000" stroke-width="2.3"/>
<line x1="1557.2" y1="969.1" x2="1786.4" y2="969.1" stroke="#000" stroke-width="2.3"/>
<line x1="1557.2" y1="1093.0" x2="1786.4" y2="1093.0" stroke="#000" stroke-width="2.3"/>
<line x1="1557.2" y1="1197.3" x2="1786.4" y2="1197.3" stroke="#000" stroke-width="2.3"/>
<line x1="1557.2" y1="1431.5" x2="1786.4" y2="1431.5" stroke="#000" stroke-width="2.3"/>
<line x1="1557.2" y1="1508.3" x2="1786.4" y2="1508.3" stroke="#000" stroke-width="2.3"/>
<line x1="1557.2" y1="1949.9" x2="1786.4" y2="1949.9" stroke="#000" stroke-width="2.3"/>
<line x1="1557.2" y1="2152.3" x2="1786.4" y2="2152.3" stroke="#000" stroke-width="2.3"/>
<line x1="1557.2" y1="2256.4" x2="1786.4" y2="2256.4" stroke="#000" stroke-width="2.3"/>
<line x1="1557.2" y1="2319.2" x2="1786.4" y2="2319.2" stroke="#000" stroke-width="2.3"/>
<line x1="1557.2" y1="2381.7" x2="1786.4" y2="2381.7" stroke="#000" stroke-width="2.3"/>
<line x1="1557.2" y1="2422.9" x2="1786.4" y2="2422.9" stroke="#000" stroke-width="2.3"/>
<rect x="1557.2" y="82.8" width="229.2" height="2422.1" fill="none" stroke="#000" stroke-width="2.3"/>
<text x="1583.3" y="81.0" font-size="24.4" font-style="italic" transform="rotate(-45 1583.3 81.0)">Pou2f3</text>
<text x="1621.6" y="81.0" font-size="24.4" font-style="italic" transform="rotate(-45 1621.6 81.0)">C11orf53</text>
<text x="1659.9" y="81.0" font-size="24.4" font-style="italic" transform="rotate(-45 1659.9 81.0)">Colca2</text>
<text x="1698.2" y="81.0" font-size="24.4" font-style="italic" transform="rotate(-45 1698.2 81.0)">Oca-b</text>
<text x="1736.5" y="81.0" font-size="24.4" font-style="italic" transform="rotate(-45 1736.5 81.0)">Pou2f2</text>
<text x="1774.8" y="81.0" font-size="24.4" font-style="italic" transform="rotate(-45 1774.8 81.0)">Pou2f1</text>
<text x="930.0" y="525.7" text-anchor="middle" font-size="24.6" transform="rotate(-90 930.0 525.7)">% of cells in group</text>
<text x="978.2" y="419.5" text-anchor="middle">a&amp;b</text>
<circle cx="972.7" cy="460.1" r="10.9" fill="#231f20"/>
<text x="985.5" y="468.6" >50</text>
<circle cx="972.7" cy="496.0" r="9.2" fill="#231f20"/>
<text x="985.5" y="504.5" >40</text>
<circle cx="972.7" cy="531.5" r="7.7" fill="#231f20"/>
<text x="985.5" y="540.0" >30</text>
<circle cx="972.7" cy="567.4" r="6.1" fill="#231f20"/>
<text x="985.5" y="575.9" >20</text>
<circle cx="972.7" cy="602.9" r="4.1" fill="#231f20"/>
<text x="985.5" y="611.4" >10</text>
<text x="1072.9" y="419.5" text-anchor="middle">c</text>
<circle cx="1062.1" cy="460.7" r="10.9" fill="#231f20"/>
<text x="1074.6" y="469.2" >80</text>
<circle cx="1062.1" cy="496.8" r="8.7" fill="#231f20"/>
<text x="1074.6" y="505.3" >60</text>
<circle cx="1062.1" cy="533.0" r="6.6" fill="#231f20"/>
<text x="1074.6" y="541.5" >40</text>
<circle cx="1062.1" cy="569.4" r="4.1" fill="#231f20"/>
<text x="1074.6" y="577.9" >20</text>
<text x="1162.6" y="419.5" text-anchor="middle">d</text>
<circle cx="1148.0" cy="460.7" r="13.1" fill="#231f20"/>
<text x="1163.2" y="469.2" >60</text>
<circle cx="1148.0" cy="493.6" r="11.7" fill="#231f20"/>
<text x="1163.2" y="502.1" >50</text>
<circle cx="1148.0" cy="526.6" r="10.0" fill="#231f20"/>
<text x="1163.2" y="535.1" >40</text>
<circle cx="1148.0" cy="559.8" r="8.2" fill="#231f20"/>
<text x="1163.2" y="568.3" >30</text>
<circle cx="1148.0" cy="593.0" r="6.3" fill="#231f20"/>
<text x="1163.2" y="601.5" >20</text>
<circle cx="1148.0" cy="626.2" r="3.8" fill="#231f20"/>
<text x="1163.2" y="634.7" >10</text>
<text x="1253.5" y="419.5" text-anchor="middle">e</text>
<circle cx="1237.0" cy="466.0" r="19.5" fill="#231f20"/>
<text x="1258.8" y="474.5" >70</text>
<circle cx="1237.0" cy="514.0" r="15.7" fill="#231f20"/>
<text x="1258.8" y="522.5" >50</text>
<circle cx="1237.0" cy="562.1" r="10.9" fill="#231f20"/>
<text x="1258.8" y="570.6" >30</text>
<circle cx="1237.0" cy="610.2" r="5.5" fill="#231f20"/>
<text x="1258.8" y="618.7" >10</text>
<text x="1340.4" y="419.5" text-anchor="middle">f</text>
<circle cx="1323.5" cy="458.1" r="13.8" fill="#231f20"/>
<text x="1338.0" y="466.6" >100</text>
<circle cx="1323.5" cy="499.5" r="11.7" fill="#231f20"/>
<text x="1338.0" y="508.0" >80</text>
<circle cx="1323.5" cy="541.1" r="9.5" fill="#231f20"/>
<text x="1338.0" y="549.6" >60</text>
<circle cx="1323.5" cy="583.1" r="7.1" fill="#231f20"/>
<text x="1338.0" y="591.6" >40</text>
<circle cx="1323.5" cy="624.8" r="4.4" fill="#231f20"/>
<text x="1338.0" y="633.3" >20</text>
<text x="1157.0" y="689.5" text-anchor="middle" font-size="24.6">mean expression in group</text>
<defs><linearGradient id="pg" x1="0" x2="1" y1="0" y2="0"><stop offset="0.00" stop-color="#f6f5fa"/><stop offset="0.20" stop-color="#e4e2ef"/><stop offset="0.40" stop-color="#bab6d9"/><stop offset="0.50" stop-color="#a09ac9"/><stop offset="0.60" stop-color="#8986be"/><stop offset="0.70" stop-color="#7b6fb3"/><stop offset="0.80" stop-color="#6a43a0"/><stop offset="0.90" stop-color="#58308f"/><stop offset="1.00" stop-color="#45256d"/></linearGradient><linearGradient id="rb" x1="0" x2="1" y1="0" y2="0"><stop offset="0" stop-color="#2f6bb8"/><stop offset="0.5" stop-color="#f4eff1"/><stop offset="1" stop-color="#a83a3b"/></linearGradient></defs>
<rect x="1049.6" y="708.7" width="217" height="34" fill="url(#pg)" stroke="#000" stroke-width="2"/>
<text x="1047.5" y="769.0" text-anchor="middle">0</text>
<text x="1266.0" y="769.0" text-anchor="middle">1</text>
<rect x="107.4" y="2027.2" width="31.0" height="46.5" fill="#3f74bf"/>
<rect x="138.0" y="2027.2" width="31.0" height="46.5" fill="#6a8ec4"/>
<rect x="168.6" y="2027.2" width="31.0" height="46.5" fill="#8ba2cc"/>
<rect x="199.2" y="2027.2" width="31.0" height="46.5" fill="#a7b5d2"/>
<rect x="229.8" y="2027.2" width="31.0" height="46.5" fill="#9aaed2"/>
<rect x="260.4" y="2027.2" width="31.0" height="46.5" fill="#4a7ac0"/>
<rect x="291.0" y="2027.2" width="31.0" height="46.5" fill="#91a8cc"/>
<rect x="321.6" y="2027.2" width="31.0" height="46.5" fill="#89a3cb"/>
<rect x="352.2" y="2027.2" width="31.0" height="46.5" fill="#2f6bb8"/>
<rect x="382.8" y="2027.2" width="31.0" height="46.5" fill="#4f80c2"/>
<rect x="413.4" y="2027.2" width="31.0" height="46.5" fill="#2f6bb8"/>
<rect x="444.0" y="2027.2" width="31.0" height="46.5" fill="#4276be"/>
<rect x="474.6" y="2027.2" width="31.0" height="46.5" fill="#e8c4c0"/>
<rect x="505.2" y="2027.2" width="31.0" height="46.5" fill="#aab8d4"/>
<rect x="535.8" y="2027.2" width="31.0" height="46.5" fill="#ecc9c6"/>
<rect x="566.4" y="2027.2" width="31.0" height="46.5" fill="#f2eff1"/>
<rect x="597.0" y="2027.2" width="31.0" height="46.5" fill="#f0f0f2"/>
<rect x="627.6" y="2027.2" width="31.0" height="46.5" fill="#9caecd"/>
<rect x="658.2" y="2027.2" width="31.0" height="46.5" fill="#e6e6ea"/>
<rect x="688.8" y="2027.2" width="31.0" height="46.5" fill="#dcdee4"/>
<rect x="107.4" y="2073.3" width="31.0" height="46.5" fill="#8ea8cd"/>
<rect x="138.0" y="2073.3" width="31.0" height="46.5" fill="#9cb1d3"/>
<rect x="168.6" y="2073.3" width="31.0" height="46.5" fill="#ecc9c7"/>
<rect x="199.2" y="2073.3" width="31.0" height="46.5" fill="#efd3d2"/>
<rect x="229.8" y="2073.3" width="31.0" height="46.5" fill="#e0a3a1"/>
<rect x="260.4" y="2073.3" width="31.0" height="46.5" fill="#b9c3da"/>
<rect x="291.0" y="2073.3" width="31.0" height="46.5" fill="#c3c9dc"/>
<rect x="321.6" y="2073.3" width="31.0" height="46.5" fill="#a9b7d6"/>
<rect x="352.2" y="2073.3" width="31.0" height="46.5" fill="#7e9ac6"/>
<rect x="382.8" y="2073.3" width="31.0" height="46.5" fill="#7596c5"/>
<rect x="413.4" y="2073.3" width="31.0" height="46.5" fill="#a6b6d4"/>
<rect x="444.0" y="2073.3" width="31.0" height="46.5" fill="#8aa3cb"/>
<rect x="474.6" y="2073.3" width="31.0" height="46.5" fill="#e8c2bd"/>
<rect x="505.2" y="2073.3" width="31.0" height="46.5" fill="#d4d8e3"/>
<rect x="535.8" y="2073.3" width="31.0" height="46.5" fill="#c57877"/>
<rect x="566.4" y="2073.3" width="31.0" height="46.5" fill="#c57877"/>
<rect x="597.0" y="2073.3" width="31.0" height="46.5" fill="#d99a98"/>
<rect x="627.6" y="2073.3" width="31.0" height="46.5" fill="#e0aeab"/>
<rect x="658.2" y="2073.3" width="31.0" height="46.5" fill="#d99593"/>
<rect x="688.8" y="2073.3" width="31.0" height="46.5" fill="#cf8584"/>
<rect x="107.4" y="2119.4" width="31.0" height="46.5" fill="#7e9dc9"/>
<rect x="138.0" y="2119.4" width="31.0" height="46.5" fill="#a3b5d5"/>
<rect x="168.6" y="2119.4" width="31.0" height="46.5" fill="#306db9"/>
<rect x="199.2" y="2119.4" width="31.0" height="46.5" fill="#4f80c2"/>
<rect x="229.8" y="2119.4" width="31.0" height="46.5" fill="#9ab0d2"/>
<rect x="260.4" y="2119.4" width="31.0" height="46.5" fill="#668bc3"/>
<rect x="291.0" y="2119.4" width="31.0" height="46.5" fill="#306db9"/>
<rect x="321.6" y="2119.4" width="31.0" height="46.5" fill="#306db9"/>
<rect x="352.2" y="2119.4" width="31.0" height="46.5" fill="#3a72bc"/>
<rect x="382.8" y="2119.4" width="31.0" height="46.5" fill="#4a7bc1"/>
<rect x="413.4" y="2119.4" width="31.0" height="46.5" fill="#3e74bc"/>
<rect x="444.0" y="2119.4" width="31.0" height="46.5" fill="#306db9"/>
<rect x="474.6" y="2119.4" width="31.0" height="46.5" fill="#306db9"/>
<rect x="505.2" y="2119.4" width="31.0" height="46.5" fill="#d89b99"/>
<rect x="535.8" y="2119.4" width="31.0" height="46.5" fill="#d08887"/>
<rect x="566.4" y="2119.4" width="31.0" height="46.5" fill="#4178bf"/>
<rect x="597.0" y="2119.4" width="31.0" height="46.5" fill="#efdcdc"/>
<rect x="627.6" y="2119.4" width="31.0" height="46.5" fill="#f0dedd"/>
<rect x="658.2" y="2119.4" width="31.0" height="46.5" fill="#9aafcf"/>
<rect x="688.8" y="2119.4" width="31.0" height="46.5" fill="#306db9"/>
<rect x="107.4" y="2165.5" width="31.0" height="46.5" fill="#306db9"/>
<rect x="138.0" y="2165.5" width="31.0" height="46.5" fill="#306db9"/>
<rect x="168.6" y="2165.5" width="31.0" height="46.5" fill="#d48a88"/>
<rect x="199.2" y="2165.5" width="31.0" height="46.5" fill="#f0eef2"/>
<rect x="229.8" y="2165.5" width="31.0" height="46.5" fill="#306db9"/>
<rect x="260.4" y="2165.5" width="31.0" height="46.5" fill="#8ea5cb"/>
<rect x="291.0" y="2165.5" width="31.0" height="46.5" fill="#849dc8"/>
<rect x="321.6" y="2165.5" width="31.0" height="46.5" fill="#dfe2e9"/>
<rect x="352.2" y="2165.5" width="31.0" height="46.5" fill="#5a86c2"/>
<rect x="382.8" y="2165.5" width="31.0" height="46.5" fill="#5584c2"/>
<rect x="413.4" y="2165.5" width="31.0" height="46.5" fill="#7c99c5"/>
<rect x="444.0" y="2165.5" width="31.0" height="46.5" fill="#7896c5"/>
<rect x="474.6" y="2165.5" width="31.0" height="46.5" fill="#5f88c2"/>
<rect x="505.2" y="2165.5" width="31.0" height="46.5" fill="#b6c1d7"/>
<rect x="535.8" y="2165.5" width="31.0" height="46.5" fill="#9cb1d2"/>
<rect x="566.4" y="2165.5" width="31.0" height="46.5" fill="#ebd3d2"/>
<rect x="597.0" y="2165.5" width="31.0" height="46.5" fill="#ccd4e2"/>
<rect x="627.6" y="2165.5" width="31.0" height="46.5" fill="#ecedf1"/>
<rect x="658.2" y="2165.5" width="31.0" height="46.5" fill="#e2e5eb"/>
<rect x="688.8" y="2165.5" width="31.0" height="46.5" fill="#c9d0df"/>
<rect x="107.4" y="2211.6" width="31.0" height="46.5" fill="#306db9"/>
<rect x="138.0" y="2211.6" width="31.0" height="46.5" fill="#306db9"/>
<rect x="168.6" y="2211.6" width="31.0" height="46.5" fill="#306db9"/>
<rect x="199.2" y="2211.6" width="31.0" height="46.5" fill="#306db9"/>
<rect x="229.8" y="2211.6" width="31.0" height="46.5" fill="#306db9"/>
<rect x="260.4" y="2211.6" width="31.0" height="46.5" fill="#6489c2"/>
<rect x="291.0" y="2211.6" width="31.0" height="46.5" fill="#3a72bc"/>
<rect x="321.6" y="2211.6" width="31.0" height="46.5" fill="#3f76be"/>
<rect x="352.2" y="2211.6" width="31.0" height="46.5" fill="#6287c2"/>
<rect x="382.8" y="2211.6" width="31.0" height="46.5" fill="#5584c2"/>
<rect x="413.4" y="2211.6" width="31.0" height="46.5" fill="#306db9"/>
<rect x="444.0" y="2211.6" width="31.0" height="46.5" fill="#306db9"/>
<rect x="474.6" y="2211.6" width="31.0" height="46.5" fill="#c5cbdc"/>
<rect x="505.2" y="2211.6" width="31.0" height="46.5" fill="#7f9bc6"/>
<rect x="535.8" y="2211.6" width="31.0" height="46.5" fill="#5f86c1"/>
<rect x="566.4" y="2211.6" width="31.0" height="46.5" fill="#8aa3cb"/>
<rect x="597.0" y="2211.6" width="31.0" height="46.5" fill="#306db9"/>
<rect x="627.6" y="2211.6" width="31.0" height="46.5" fill="#7f9bc6"/>
<rect x="658.2" y="2211.6" width="31.0" height="46.5" fill="#849fc8"/>
<rect x="688.8" y="2211.6" width="31.0" height="46.5" fill="#b1bdd6"/>
<rect x="107.4" y="2257.7" width="31.0" height="46.5" fill="#a3b5d5"/>
<rect x="138.0" y="2257.7" width="31.0" height="46.5" fill="#a7b8d6"/>
<rect x="168.6" y="2257.7" width="31.0" height="46.5" fill="#bf5a58"/>
<rect x="199.2" y="2257.7" width="31.0" height="46.5" fill="#aa3b3b"/>
<rect x="229.8" y="2257.7" width="31.0" height="46.5" fill="#c97070"/>
<rect x="260.4" y="2257.7" width="31.0" height="46.5" fill="#d49291"/>
<rect x="291.0" y="2257.7" width="31.0" height="46.5" fill="#c87878"/>
<rect x="321.6" y="2257.7" width="31.0" height="46.5" fill="#d49896"/>
<rect x="352.2" y="2257.7" width="31.0" height="46.5" fill="#e6bcbc"/>
<rect x="382.8" y="2257.7" width="31.0" height="46.5" fill="#e3c0bf"/>
<rect x="413.4" y="2257.7" width="31.0" height="46.5" fill="#e6c0bf"/>
<rect x="444.0" y="2257.7" width="31.0" height="46.5" fill="#e8c6c4"/>
<rect x="474.6" y="2257.7" width="31.0" height="46.5" fill="#b94f52"/>
<rect x="505.2" y="2257.7" width="31.0" height="46.5" fill="#a83a3b"/>
<rect x="535.8" y="2257.7" width="31.0" height="46.5" fill="#a83a3b"/>
<rect x="566.4" y="2257.7" width="31.0" height="46.5" fill="#a83a3b"/>
<rect x="597.0" y="2257.7" width="31.0" height="46.5" fill="#a83a3b"/>
<rect x="627.6" y="2257.7" width="31.0" height="46.5" fill="#a83a3b"/>
<rect x="658.2" y="2257.7" width="31.0" height="46.5" fill="#a83a3b"/>
<rect x="688.8" y="2257.7" width="31.0" height="46.5" fill="#a83a3b"/>
<rect x="107.4" y="1959.6" width="61.5" height="67.8" fill="#c8da35"/>
<rect x="168.6" y="1959.6" width="92.1" height="67.8" fill="#4cae4c"/>
<text x="214.5" y="1986.5" text-anchor="middle" font-size="25" fill="#111">Gall</text>
<text x="214.5" y="2015.5" text-anchor="middle" font-size="25" fill="#111">bladder</text>
<rect x="260.4" y="1959.6" width="92.1" height="67.8" fill="#c8da35"/>
<text x="306.3" y="1986.5" text-anchor="middle" font-size="25" fill="#111">Small</text>
<text x="306.3" y="2015.5" text-anchor="middle" font-size="25" fill="#111">intestine</text>
<rect x="352.2" y="1959.6" width="122.7" height="67.8" fill="#8aa3d7"/>
<text x="413.4" y="2001.5" text-anchor="middle" font-size="25" fill="#111">Colon</text>
<rect x="474.6" y="1959.6" width="122.7" height="67.8" fill="#b58fb0"/>
<text x="535.8" y="2001.5" text-anchor="middle" font-size="25" fill="#111">Trachea</text>
<rect x="597.0" y="1959.6" width="122.7" height="67.8" fill="#b07a2e"/>
<text x="658.2" y="2001.5" text-anchor="middle" font-size="25" fill="#111">Thymus</text>
<rect x="64.7" y="2027.2" width="42.9" height="138.3" fill="#c1b49b"/>
<rect x="64.7" y="2165.5" width="42.9" height="138.3" fill="#fcbf7c"/>
<text x="95.0" y="2096.3" text-anchor="middle" font-size="25" font-style="italic" fill="#111" transform="rotate(-90 95.0 2096.3)">Colca2</text>
<text x="95.0" y="2234.7" text-anchor="middle" font-size="25" font-style="italic" fill="#111" transform="rotate(-90 95.0 2234.7)">C11orf53</text>
<line x1="167.3" y1="1948.8" x2="719.3" y2="1948.8" stroke="#000" stroke-width="1.6"/>
<text x="448.5" y="1939.8" text-anchor="middle" font-size="25">Tuft</text>
<text x="122.0" y="1941.0" font-size="25" transform="rotate(-45 122.0 1941.0)">Non-Tuft</text>
<text x="145.0" y="1962.0" font-size="25" transform="rotate(-45 145.0 1962.0)">epithelial</text>
<text x="877.5" y="1954.6" text-anchor="middle" font-size="24.5">Transcript Name</text>
<text x="1091.6" y="1939.5" text-anchor="middle" font-size="24.5">Protein</text>
<text x="1095.0" y="1969.3" text-anchor="middle" font-size="24.5">length</text>
<text x="1240.5" y="1954.6" text-anchor="middle" font-size="24.5">NCBI status</text>
<text x="728.6" y="2059.0" font-size="24.5">ENSMUST00000215038.3</text>
<text x="1095.0" y="2059.0" text-anchor="middle" font-size="24.5">239 aa</text>
<text x="1240.5" y="2059.0" text-anchor="middle" font-size="24.5">Uncertain</text>
<text x="728.6" y="2105.3" font-size="24.5">ENSMUST00000239415.2</text>
<text x="1095.0" y="2105.3" text-anchor="middle" font-size="24.5">253 aa</text>
<text x="1240.5" y="2105.3" text-anchor="middle" font-size="24.5">Uncertain</text>
<text x="728.6" y="2151.6" font-size="24.5">ENSMUST00000114427.4</text>
<text x="1095.0" y="2151.6" text-anchor="middle" font-size="24.5">239 aa</text>
<text x="1240.5" y="2151.6" text-anchor="middle" font-size="24.5">Provisional</text>
<text x="728.6" y="2197.9" font-size="24.5">ENSMUST00000181366.3</text>
<text x="1095.0" y="2197.9" text-anchor="middle" font-size="24.5">235 aa</text>
<text x="1240.5" y="2197.9" text-anchor="middle" font-size="24.5">Validated</text>
<text x="728.6" y="2244.2" font-size="24.5">ENSMUST00000039959.11</text>
<text x="1095.0" y="2244.2" text-anchor="middle" font-size="24.5">235 aa</text>
<text x="1240.5" y="2244.2" text-anchor="middle" font-size="24.5">Validated</text>
<text x="728.6" y="2290.5" font-size="24.5">ENSMUST00000238450.3</text>
<text x="1095.0" y="2290.5" text-anchor="middle" font-size="24.5">287 aa</text>
<text x="1240.5" y="2290.5" text-anchor="middle" font-size="24.5">Validated</text>
<text x="731.0" y="2372.0" text-anchor="middle" font-size="24.5">log<tspan font-size="16" dy="6">2</tspan><tspan dy="-6">(TPM+1)</tspan></text>
<rect x="646" y="2386.2" width="172.3" height="23.3" fill="url(#rb)" stroke="#222" stroke-width="1.6"/>
<text x="644.7" y="2435.2" text-anchor="middle" font-size="24.5">0</text>
<text x="818.3" y="2435.2" text-anchor="middle" font-size="24.5">8</text>
<line x1="859.2" y1="1301.5" x2="859.2" y2="1763.0" stroke="#000" stroke-width="2.2"/>
<line x1="858.1" y1="1762.3" x2="1314.5" y2="1762.3" stroke="#000" stroke-width="2.2"/>
<line x1="850.0" y1="1740.0" x2="859.2" y2="1740.0" stroke="#000" stroke-width="2"/>
<text x="846.0" y="1748.0" text-anchor="end" font-size="22">0</text>
<line x1="877.3" y1="1762.3" x2="877.3" y2="1771.0" stroke="#000" stroke-width="2"/>
<text x="877.3" y="1787.5" text-anchor="middle" font-size="22">0</text>
<line x1="850.0" y1="1525.5" x2="859.2" y2="1525.5" stroke="#000" stroke-width="2"/>
<text x="846.0" y="1533.5" text-anchor="end" font-size="22">5</text>
<line x1="1095.5" y1="1762.3" x2="1095.5" y2="1771.0" stroke="#000" stroke-width="2"/>
<text x="1095.5" y="1787.5" text-anchor="middle" font-size="22">5</text>
<line x1="850.0" y1="1311.0" x2="859.2" y2="1311.0" stroke="#000" stroke-width="2"/>
<text x="846.0" y="1319.0" text-anchor="end" font-size="22">10</text>
<line x1="1313.8" y1="1762.3" x2="1313.8" y2="1771.0" stroke="#000" stroke-width="2"/>
<text x="1313.8" y="1787.5" text-anchor="middle" font-size="22">10</text>
<text x="1088.0" y="1822.0" text-anchor="middle" font-size="21">log<tspan font-size="15" dy="6">2</tspan><tspan dy="-6">[TPM+1]</tspan></text>
<text x="1088.0" y="1850.8" text-anchor="middle" font-size="24.5" font-style="italic">COLCA2</text>
<text x="784.5" y="1529.6" text-anchor="middle" font-size="24.5" font-style="italic" transform="rotate(-90 784.5 1529.6)">POU2F3</text>
<text x="808.5" y="1529.6" text-anchor="middle" font-size="21" transform="rotate(-90 808.5 1529.6)">log<tspan font-size="15" dy="6">2</tspan><tspan dy="-6">[TPM+1]</tspan></text>
<path d="M873.5,1743.5 L873.5,1668 L880,1662 L893,1672 L913,1664 L935,1666 L944,1690 L973,1704 L993,1716 L1024,1716 L1030,1730 L1028,1743.5 Z" fill="#050303" stroke="#050303" stroke-width="6" stroke-linejoin="round"/>
<g fill="#000" fill-opacity="0.5">
<circle cx="885.0" cy="1475.0" r="7"/>
<circle cx="1102.9" cy="1466.1" r="7"/>
<circle cx="985.4" cy="1509.5" r="7"/>
<circle cx="1006.4" cy="1528.1" r="7"/>
<circle cx="1058.1" cy="1543.0" r="7"/>
<circle cx="927.6" cy="1547.7" r="7"/>
<circle cx="942.8" cy="1561.7" r="7"/>
<circle cx="885.0" cy="1571.0" r="7"/>
<circle cx="876.3" cy="1579.2" r="7"/>
<circle cx="1003.6" cy="1571.7" r="7"/>
<circle cx="1025.0" cy="1570.5" r="7"/>
<circle cx="977.0" cy="1579.4" r="7"/>
<circle cx="1018.5" cy="1585.0" r="7"/>
<circle cx="890.3" cy="1586.4" r="7"/>
<circle cx="945.1" cy="1586.4" r="7"/>
<circle cx="971.9" cy="1592.0" r="7"/>
<circle cx="919.4" cy="1593.4" r="7"/>
<circle cx="994.0" cy="1601.5" r="7"/>
<circle cx="1045.3" cy="1599.2" r="7"/>
<circle cx="893.8" cy="1602.5" r="7"/>
<circle cx="953.2" cy="1605.0" r="7"/>
<circle cx="1067.5" cy="1613.0" r="7"/>
<circle cx="1124.6" cy="1611.3" r="7"/>
<circle cx="1120.4" cy="1620.0" r="7"/>
<circle cx="1053.0" cy="1617.6" r="7"/>
<circle cx="980.7" cy="1616.0" r="7"/>
<circle cx="1001.0" cy="1620.7" r="7"/>
<circle cx="1016.6" cy="1623.4" r="7"/>
<circle cx="1026.0" cy="1626.0" r="7"/>
<circle cx="1027.4" cy="1634.6" r="7"/>
<circle cx="1033.0" cy="1644.7" r="7"/>
<circle cx="1023.2" cy="1649.0" r="7"/>
<circle cx="1057.0" cy="1642.3" r="7"/>
<circle cx="1083.0" cy="1639.8" r="7"/>
<circle cx="1120.6" cy="1644.0" r="7"/>
<circle cx="1048.3" cy="1658.0" r="7"/>
<circle cx="1045.3" cy="1668.0" r="7"/>
<circle cx="1034.4" cy="1663.8" r="7"/>
<circle cx="1092.6" cy="1667.3" r="7"/>
<circle cx="1076.3" cy="1677.8" r="7"/>
<circle cx="1105.5" cy="1683.6" r="7"/>
<circle cx="1083.3" cy="1691.3" r="7"/>
<circle cx="1132.3" cy="1696.9" r="7"/>
<circle cx="1164.2" cy="1697.6" r="7"/>
<circle cx="1115.7" cy="1700.6" r="7"/>
<circle cx="1093.1" cy="1702.2" r="7"/>
<circle cx="1060.5" cy="1703.4" r="7"/>
<circle cx="1130.4" cy="1710.9" r="7"/>
<circle cx="1234.6" cy="1715.5" r="7"/>
<circle cx="1145.5" cy="1722.5" r="7"/>
<circle cx="1107.6" cy="1719.3" r="7"/>
<circle cx="1118.3" cy="1719.0" r="7"/>
<circle cx="1087.3" cy="1723.2" r="7"/>
<circle cx="1069.8" cy="1731.4" r="7"/>
<circle cx="1093.1" cy="1737.7" r="7"/>
<circle cx="1107.1" cy="1738.8" r="7"/>
<circle cx="1114.0" cy="1738.4" r="7"/>
<circle cx="1123.0" cy="1738.8" r="7"/>
<circle cx="1045.3" cy="1739.0" r="7"/>
<circle cx="1065.0" cy="1740.7" r="7"/>
<circle cx="1060.0" cy="1718.6" r="7"/>
<circle cx="1080.0" cy="1730.0" r="7"/>
<circle cx="1055.0" cy="1730.0" r="7"/>
<circle cx="1038.0" cy="1715.0" r="7"/>
<circle cx="1030.0" cy="1700.0" r="7"/>
<circle cx="1012.0" cy="1690.0" r="7"/>
<circle cx="990.0" cy="1672.0" r="7"/>
<circle cx="965.0" cy="1655.0" r="7"/>
<circle cx="940.0" cy="1640.0" r="7"/>
<circle cx="918.0" cy="1630.0" r="7"/>
<circle cx="905.0" cy="1620.0" r="7"/>
<circle cx="960.0" cy="1630.0" r="7"/>
<circle cx="985.0" cy="1645.0" r="7"/>
<circle cx="1005.0" cy="1665.0" r="7"/>
<circle cx="930.0" cy="1665.0" r="7"/>
<circle cx="950.0" cy="1680.0" r="7"/>
<circle cx="975.0" cy="1690.0" r="7"/>
<circle cx="1000.0" cy="1705.0" r="7"/>
<circle cx="1020.0" cy="1720.0" r="7"/>
<circle cx="1050.0" cy="1742.0" r="7"/>
<circle cx="1075.0" cy="1742.0" r="7"/>
<circle cx="1100.0" cy="1742.0" r="7"/>
<circle cx="880.0" cy="1595.0" r="7"/>
<circle cx="880.0" cy="1610.0" r="7"/>
<circle cx="884.0" cy="1625.0" r="7"/>
<circle cx="878.0" cy="1640.0" r="7"/>
<circle cx="896.0" cy="1640.0" r="7"/>
<circle cx="910.0" cy="1660.0" r="7"/>
<circle cx="925.0" cy="1650.0" r="7"/>
<circle cx="900.0" cy="1675.0" r="7"/>
<circle cx="945.0" cy="1700.0" r="7"/>
<circle cx="1010.0" cy="1740.0" r="7"/>
<circle cx="1030.0" cy="1740.0" r="7"/>
<circle cx="939.9" cy="1668.8" r="7"/>
<circle cx="927.2" cy="1663.2" r="7"/>
<circle cx="878.5" cy="1631.8" r="7"/>
<circle cx="881.0" cy="1652.9" r="7"/>
<circle cx="1012.4" cy="1708.2" r="7"/>
<circle cx="955.3" cy="1618.8" r="7"/>
<circle cx="901.6" cy="1610.5" r="7"/>
<circle cx="1066.3" cy="1659.6" r="7"/>
<circle cx="880.1" cy="1644.0" r="7"/>
<circle cx="1026.8" cy="1686.6" r="7"/>
<circle cx="917.6" cy="1646.1" r="7"/>
<circle cx="1066.4" cy="1738.8" r="7"/>
<circle cx="1061.8" cy="1729.6" r="7"/>
<circle cx="1056.4" cy="1705.1" r="7"/>
<circle cx="888.3" cy="1640.3" r="7"/>
<circle cx="972.3" cy="1669.5" r="7"/>
<circle cx="877.5" cy="1639.2" r="7"/>
<circle cx="939.6" cy="1675.7" r="7"/>
<circle cx="877.4" cy="1624.9" r="7"/>
<circle cx="915.1" cy="1639.3" r="7"/>
<circle cx="972.2" cy="1657.9" r="7"/>
<circle cx="1065.5" cy="1736.6" r="7"/>
<circle cx="899.6" cy="1624.3" r="7"/>
<circle cx="958.6" cy="1631.2" r="7"/>
<circle cx="1019.9" cy="1715.4" r="7"/>
<circle cx="942.5" cy="1658.3" r="7"/>
<circle cx="1048.5" cy="1720.2" r="7"/>
<circle cx="917.4" cy="1624.8" r="7"/>
<circle cx="878.2" cy="1640.8" r="7"/>
<circle cx="908.7" cy="1653.2" r="7"/>
<circle cx="887.7" cy="1665.1" r="7"/>
<circle cx="957.7" cy="1627.2" r="7"/>
<circle cx="946.9" cy="1690.1" r="7"/>
<circle cx="959.0" cy="1691.7" r="7"/>
<circle cx="1016.8" cy="1704.8" r="7"/>
<circle cx="1036.8" cy="1736.8" r="7"/>
<circle cx="1022.7" cy="1706.8" r="7"/>
<circle cx="878.9" cy="1644.8" r="7"/>
<circle cx="929.0" cy="1633.4" r="7"/>
<circle cx="1060.5" cy="1689.5" r="7"/>
<circle cx="915.3" cy="1640.8" r="7"/>
<circle cx="980.6" cy="1679.6" r="7"/>
<circle cx="987.7" cy="1706.4" r="7"/>
<circle cx="916.6" cy="1651.8" r="7"/>
<circle cx="962.1" cy="1695.4" r="7"/>
<circle cx="1049.7" cy="1707.3" r="7"/>
<circle cx="995.6" cy="1713.4" r="7"/>
<circle cx="962.9" cy="1676.6" r="7"/>
<circle cx="981.5" cy="1688.4" r="7"/>
<circle cx="910.9" cy="1663.3" r="7"/>
<circle cx="1049.8" cy="1736.7" r="7"/>
<circle cx="1050.1" cy="1739.5" r="7"/>
<circle cx="1047.4" cy="1736.0" r="7"/>
<circle cx="938.3" cy="1646.0" r="7"/>
<circle cx="916.9" cy="1663.8" r="7"/>
<circle cx="880.9" cy="1617.3" r="7"/>
<circle cx="878.3" cy="1636.5" r="7"/>
<circle cx="999.7" cy="1659.7" r="7"/>
<circle cx="1034.8" cy="1737.9" r="7"/>
<circle cx="880.7" cy="1662.3" r="7"/>
<circle cx="973.3" cy="1667.2" r="7"/>
<circle cx="1028.2" cy="1714.5" r="7"/>
<circle cx="975.1" cy="1674.7" r="7"/>
<circle cx="879.0" cy="1633.1" r="7"/>
<circle cx="881.4" cy="1630.4" r="7"/>
<circle cx="977.3" cy="1701.5" r="7"/>
<circle cx="891.3" cy="1670.0" r="7"/>
<circle cx="1067.9" cy="1738.9" r="7"/>
<circle cx="1063.8" cy="1738.4" r="7"/>
<circle cx="880.7" cy="1652.1" r="7"/>
<circle cx="884.0" cy="1632.8" r="7"/>
<circle cx="893.3" cy="1668.2" r="7"/>
<circle cx="924.1" cy="1662.5" r="7"/>
<circle cx="928.5" cy="1631.4" r="7"/>
<circle cx="1022.4" cy="1686.3" r="7"/>
<circle cx="1047.4" cy="1739.5" r="7"/>
<circle cx="1053.8" cy="1609.1" r="7"/>
<circle cx="950.5" cy="1691.8" r="7"/>
<circle cx="946.6" cy="1638.1" r="7"/>
<circle cx="879.4" cy="1660.6" r="7"/>
<circle cx="908.7" cy="1639.1" r="7"/>
<circle cx="993.9" cy="1621.7" r="7"/>
<circle cx="1037.9" cy="1738.6" r="7"/>
<circle cx="914.4" cy="1628.2" r="7"/>
<circle cx="1046.6" cy="1629.2" r="7"/>
<circle cx="936.3" cy="1663.9" r="7"/>
<circle cx="1044.8" cy="1737.6" r="7"/>
<circle cx="988.8" cy="1698.1" r="7"/>
<circle cx="928.1" cy="1637.5" r="7"/>
<circle cx="1066.7" cy="1723.6" r="7"/>
<circle cx="882.2" cy="1613.5" r="7"/>
<circle cx="879.0" cy="1662.5" r="7"/>
<circle cx="1031.1" cy="1737.0" r="7"/>
<circle cx="989.2" cy="1694.3" r="7"/>
<circle cx="880.1" cy="1648.9" r="7"/>
<circle cx="1048.4" cy="1739.2" r="7"/>
<circle cx="887.0" cy="1643.5" r="7"/>
<circle cx="988.4" cy="1683.6" r="7"/>
<circle cx="879.3" cy="1637.5" r="7"/>
<circle cx="1029.7" cy="1727.5" r="7"/>
<circle cx="1039.3" cy="1736.5" r="7"/>
<circle cx="880.2" cy="1660.2" r="7"/>
<circle cx="1040.8" cy="1725.1" r="7"/>
<circle cx="877.6" cy="1626.1" r="7"/>
<circle cx="1027.5" cy="1695.6" r="7"/>
<circle cx="1042.8" cy="1702.5" r="7"/>
<circle cx="1062.9" cy="1730.6" r="7"/>
<circle cx="1037.7" cy="1739.0" r="7"/>
<circle cx="881.1" cy="1652.4" r="7"/>
<circle cx="915.3" cy="1651.6" r="7"/>
<circle cx="976.2" cy="1659.2" r="7"/>
<circle cx="1063.2" cy="1674.1" r="7"/>
<circle cx="938.5" cy="1668.1" r="7"/>
<circle cx="891.5" cy="1640.2" r="7"/>
<circle cx="962.1" cy="1683.6" r="7"/>
<circle cx="1028.9" cy="1644.8" r="7"/>
<circle cx="898.7" cy="1668.6" r="7"/>
<circle cx="879.6" cy="1647.4" r="7"/>
<circle cx="892.6" cy="1605.1" r="7"/>
<circle cx="915.1" cy="1650.6" r="7"/>
<circle cx="893.0" cy="1671.4" r="7"/>
<circle cx="1038.8" cy="1738.0" r="7"/>
<circle cx="1013.9" cy="1707.6" r="7"/>
<circle cx="880.1" cy="1609.7" r="7"/>
<circle cx="986.0" cy="1671.3" r="7"/>
<circle cx="879.6" cy="1649.3" r="7"/>
<circle cx="1029.5" cy="1685.1" r="7"/>
<circle cx="1025.6" cy="1681.0" r="7"/>
<circle cx="1006.8" cy="1647.0" r="7"/>
<circle cx="944.5" cy="1677.5" r="7"/>
<circle cx="878.6" cy="1659.2" r="7"/>
<circle cx="885.7" cy="1665.3" r="7"/>
<circle cx="1040.6" cy="1704.1" r="7"/>
<circle cx="906.2" cy="1666.0" r="7"/>
<circle cx="898.7" cy="1656.8" r="7"/>
<circle cx="880.3" cy="1634.8" r="7"/>
<circle cx="981.1" cy="1685.0" r="7"/>
<circle cx="899.1" cy="1661.6" r="7"/>
<circle cx="896.5" cy="1610.9" r="7"/>
<circle cx="1036.0" cy="1735.9" r="7"/>
<circle cx="912.2" cy="1663.1" r="7"/>
<circle cx="1039.8" cy="1737.5" r="7"/>
<circle cx="890.9" cy="1662.8" r="7"/>
<circle cx="1030.1" cy="1644.1" r="7"/>
<circle cx="934.7" cy="1657.4" r="7"/>
<circle cx="942.6" cy="1677.8" r="7"/>
<circle cx="974.2" cy="1667.5" r="7"/>
<circle cx="1008.5" cy="1646.1" r="7"/>
<circle cx="930.9" cy="1617.4" r="7"/>
<circle cx="1033.6" cy="1736.9" r="7"/>
<circle cx="908.8" cy="1658.1" r="7"/>
<circle cx="961.7" cy="1692.7" r="7"/>
<circle cx="917.5" cy="1641.6" r="7"/>
<circle cx="989.8" cy="1680.9" r="7"/>
<circle cx="1042.1" cy="1738.2" r="7"/>
<circle cx="1013.0" cy="1693.7" r="7"/>
<circle cx="896.6" cy="1618.8" r="7"/>
<circle cx="893.7" cy="1652.4" r="7"/>
<circle cx="957.3" cy="1662.0" r="7"/>
<circle cx="879.4" cy="1654.6" r="7"/>
<circle cx="902.5" cy="1655.6" r="7"/>
<circle cx="1051.0" cy="1739.5" r="7"/>
<circle cx="879.7" cy="1629.8" r="7"/>
<circle cx="923.3" cy="1640.1" r="7"/>
<circle cx="882.4" cy="1624.0" r="7"/>
<circle cx="1044.8" cy="1739.2" r="7"/>
<circle cx="884.3" cy="1636.3" r="7"/>
<circle cx="1066.9" cy="1716.3" r="7"/>
<circle cx="991.6" cy="1686.3" r="7"/>
<circle cx="944.9" cy="1649.3" r="7"/>
</g>
<circle cx="1054.6" cy="1323.8" r="7.8" fill="#e0201f"/>
<text x="1066.6" y="1331.8" font-size="21">NCI-H526</text>
<circle cx="1102.3" cy="1363.1" r="7.8" fill="#e0201f"/>
<text x="1114.3" y="1371.1" font-size="21">COR-L311</text>
<circle cx="950.8" cy="1389.2" r="7.8" fill="#e0201f"/>
<text x="962.8" y="1397.2" font-size="21">NCI-H211</text>
<circle cx="1242.3" cy="1386.5" r="7.8" fill="#e0201f"/>
<text x="1254.3" y="1394.5" font-size="21">NCI-H1048</text>
<text x="-1.5" y="22.0" font-size="29.5" font-weight="bold">a</text>
<text x="640.0" y="22.0" font-size="29.5" font-weight="bold">b</text>
<text x="-1.0" y="437.0" font-size="29.5" font-weight="bold">c</text>
<text x="-1.0" y="829.0" font-size="29.5" font-weight="bold">d</text>
<text x="-1.0" y="1252.0" font-size="29.5" font-weight="bold">e</text>
<text x="1427.0" y="22.0" font-size="29.5" font-weight="bold">f</text>
<text x="-0.5" y="1884.5" font-size="29.5" font-weight="bold">g</text>
<text x="758.0" y="1251.5" font-size="29.5" font-weight="bold">h</text>
</g>
</svg></body></html>
